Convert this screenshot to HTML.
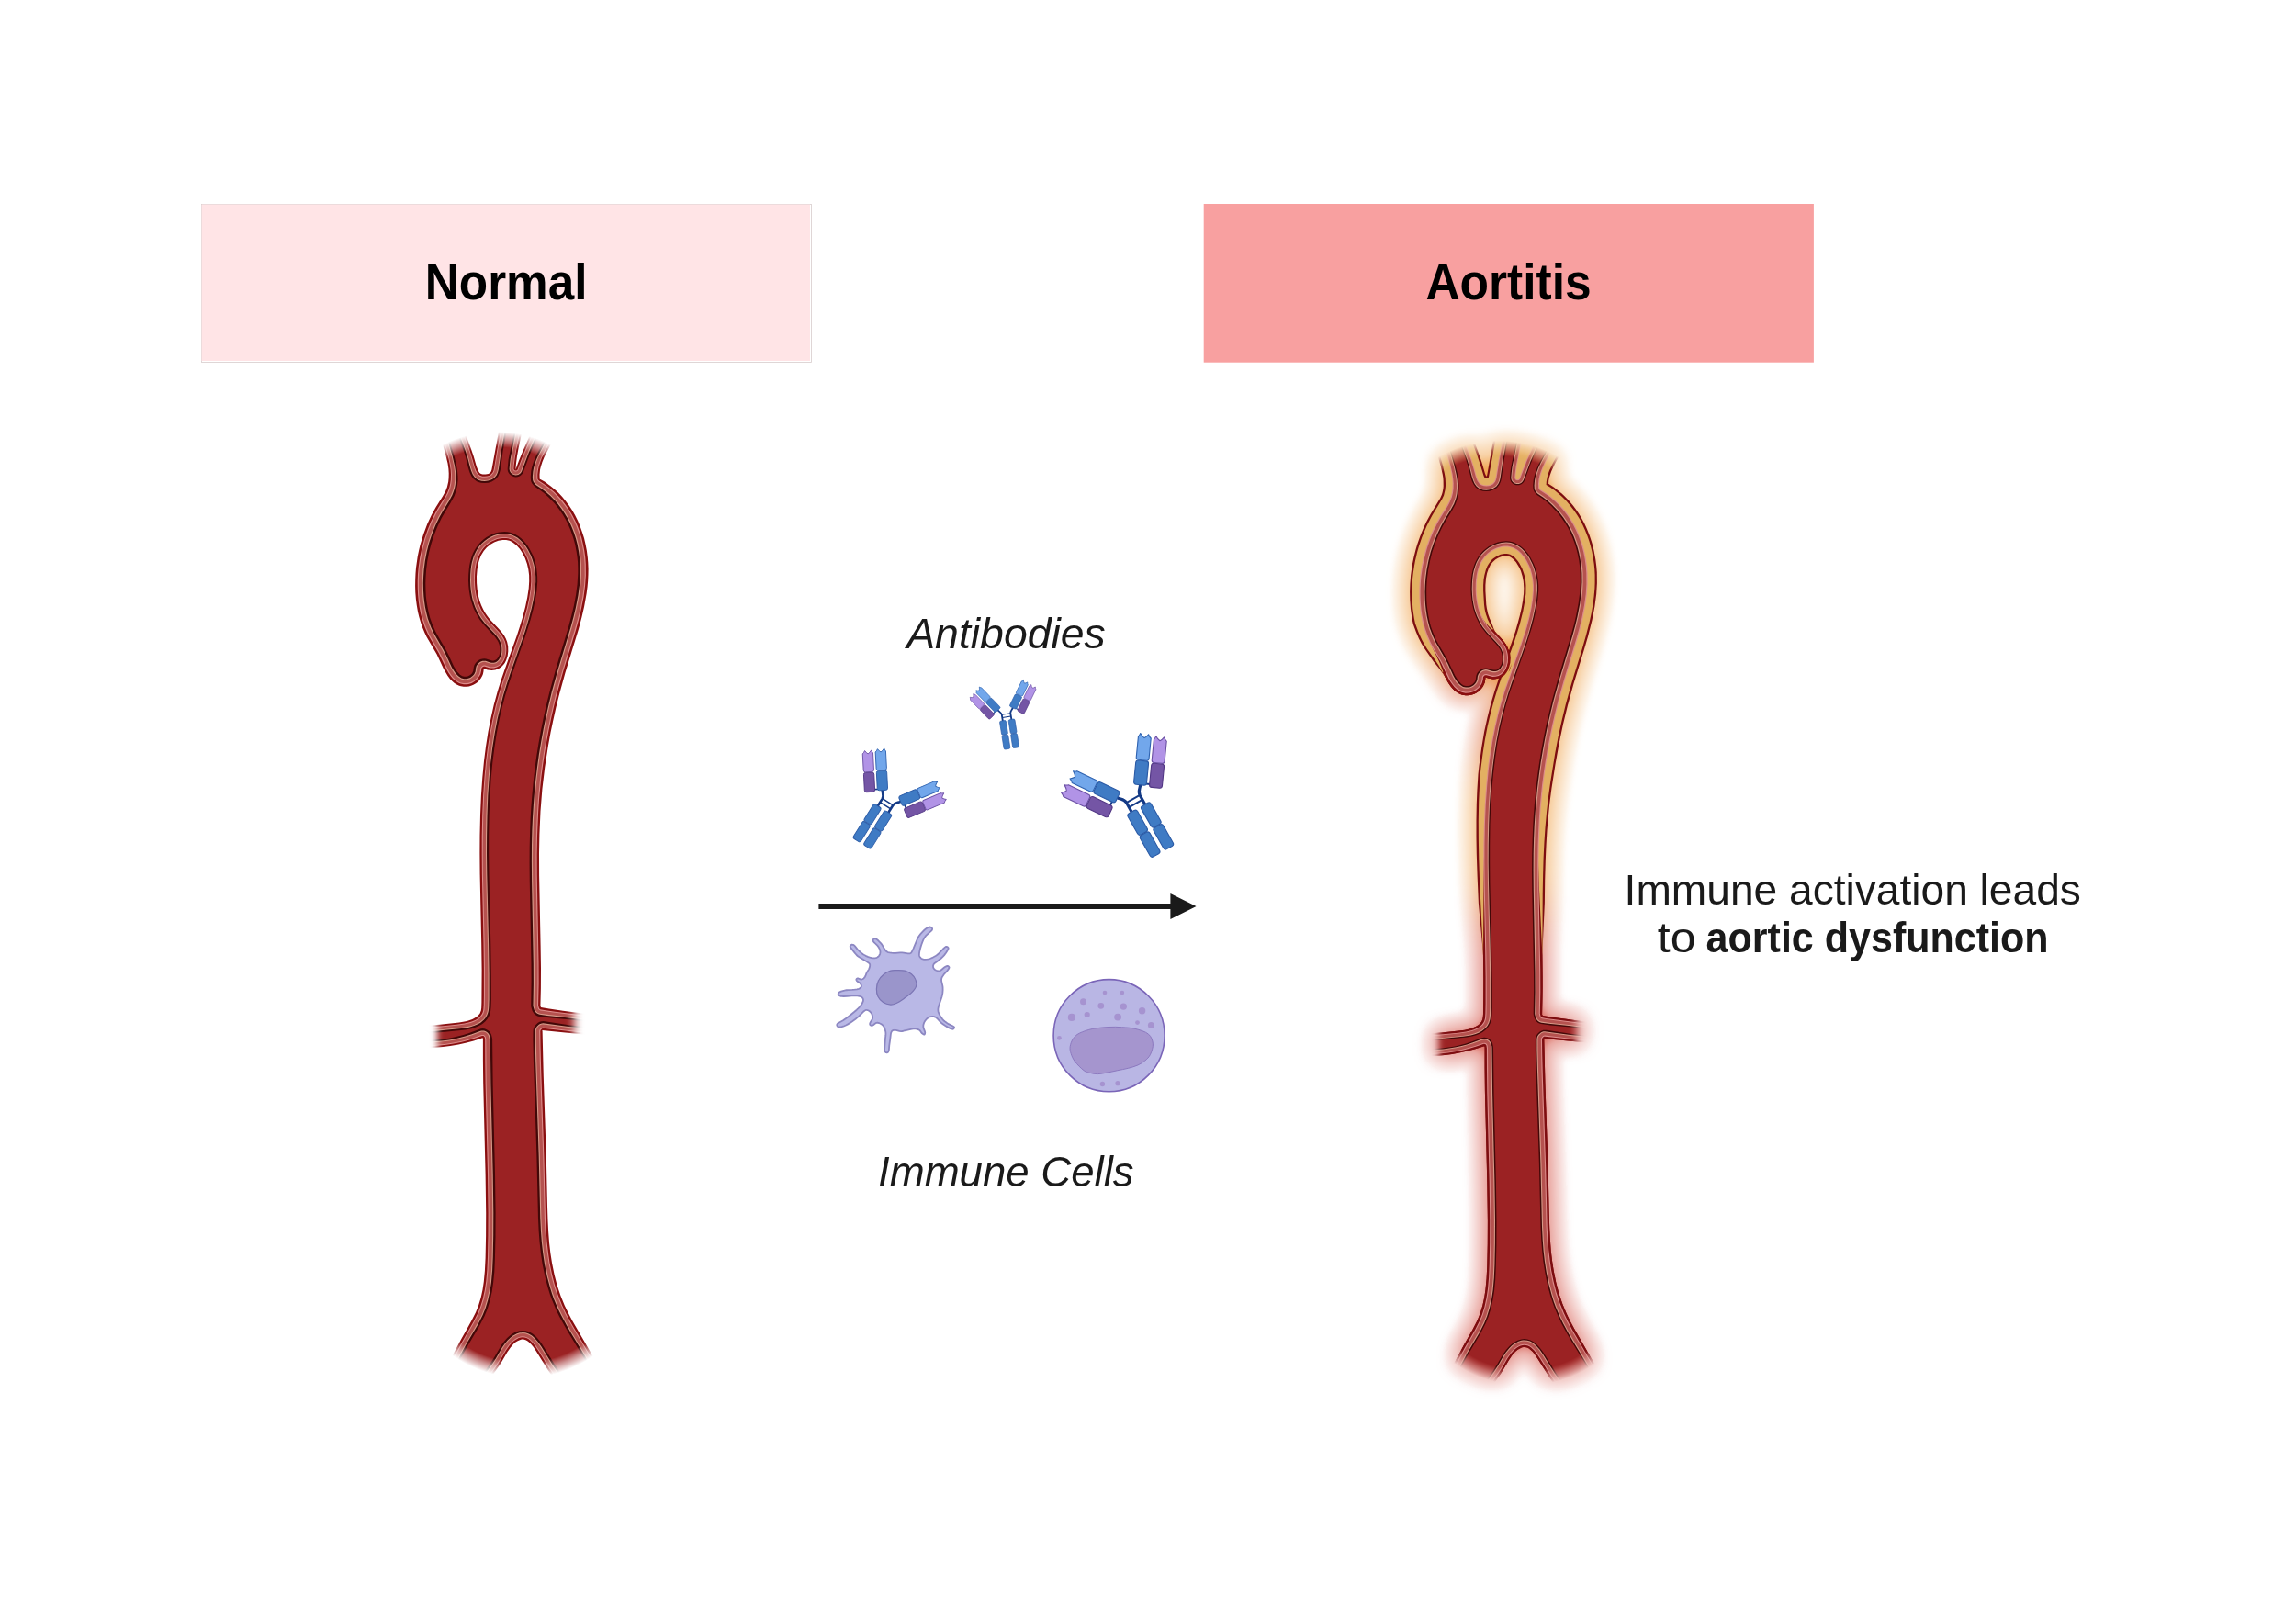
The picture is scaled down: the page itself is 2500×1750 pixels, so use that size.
<!DOCTYPE html>
<html><head><meta charset="utf-8"><title>Aortitis</title><style>html,body{margin:0;padding:0;background:#fff}svg{display:block}</style></head><body>
<svg width="2500" height="1750" viewBox="0 0 2500 1750">
<defs>
<g id="armA"><line x1="-9" y1="-1.40" x2="-5" y2="-1.40" stroke="#143a86" stroke-width="1.6"/><rect x="-5.65" y="-21.4" width="11.3" height="21.4" rx="2.2" fill="#3f7bc4" stroke="#2a5aa6" stroke-width="0.9"/><path d="M-5.65,-24.0 L-5.65,-42.00 Q-4.41,-42.70 -3.16,-45.20 Q-1.47,-42.55 0.23,-41.70 Q2.15,-42.70 4.07,-45.50 Q4.86,-43.05 5.65,-42.40 L5.65,-24.0 Q5.65,-22.0 3.6500000000000004,-22.0 L-3.6500000000000004,-22.0 Q-5.65,-22.0 -5.65,-24.0Z" fill="#72a7eb" stroke="#2e62b0" stroke-width="0.9" stroke-linejoin="round"/><rect x="-19.65" y="-20.2" width="11.3" height="21.4" rx="2.2" fill="#7455a5" stroke="#513684" stroke-width="0.9"/><path d="M-19.65,-22.8 L-19.65,-40.80 Q-18.41,-41.50 -17.16,-44.00 Q-15.47,-41.35 -13.77,-40.50 Q-11.85,-41.50 -9.93,-44.30 Q-9.14,-41.85 -8.35,-41.20 L-8.35,-22.8 Q-8.35,-20.8 -10.35,-20.8 L-17.65,-20.8 Q-19.65,-20.8 -19.65,-22.8Z" fill="#b193e6" stroke="#6a4fa3" stroke-width="0.9" stroke-linejoin="round"/></g>
<g id="armB"><line x1="-9" y1="-2.80" x2="-5" y2="-2.80" stroke="#143a86" stroke-width="1.6"/><rect x="-5.65" y="-21.4" width="11.3" height="21.4" rx="2.2" fill="#3f7bc4" stroke="#2a5aa6" stroke-width="0.9"/><path d="M-5.65,-24.0 L-5.65,-42.00 Q-4.41,-42.70 -3.16,-45.20 Q-1.47,-42.55 0.23,-41.70 Q2.15,-42.70 4.07,-45.50 Q4.86,-43.05 5.65,-42.40 L5.65,-24.0 Q5.65,-22.0 3.6500000000000004,-22.0 L-3.6500000000000004,-22.0 Q-5.65,-22.0 -5.65,-24.0Z" fill="#72a7eb" stroke="#2e62b0" stroke-width="0.9" stroke-linejoin="round"/><rect x="-20.05" y="-21.599999999999998" width="11.3" height="21.4" rx="2.2" fill="#7455a5" stroke="#513684" stroke-width="0.9"/><path d="M-20.05,-24.2 L-20.05,-43.60 Q-18.81,-44.30 -17.56,-46.80 Q-15.87,-44.15 -14.17,-43.30 Q-12.25,-44.30 -10.33,-47.10 Q-9.54,-44.65 -8.75,-44.00 L-8.75,-24.2 Q-8.75,-22.2 -10.75,-22.2 L-18.05,-22.2 Q-20.05,-22.2 -20.05,-24.2Z" fill="#b193e6" stroke="#6a4fa3" stroke-width="0.9" stroke-linejoin="round"/></g>
<g id="ab"><path d="M-11.4,-7 C-9.8,-4.6 -6.9,-3.4 -6.8,0.5 L-6.8,10.5 M11.4,-7 C9.8,-4.6 6.9,-3.4 6.8,0.5 L6.8,10.5" fill="none" stroke="#143a86" stroke-width="2.6" stroke-linecap="round"/><path d="M-6.8,0.3 L6.8,0.3 M-6.8,5 L6.8,5" fill="none" stroke="#143a86" stroke-width="1.6"/><rect x="-11.7" y="9.7" width="9.7" height="21.6" rx="2.2" fill="#3f7bc4" stroke="#2a5aa6" stroke-width="0.9"/><rect x="-11.7" y="31.9" width="9.7" height="21.8" rx="2.2" fill="#3f7bc4" stroke="#2a5aa6" stroke-width="0.9"/><rect x="2.0" y="9.7" width="9.7" height="21.6" rx="2.2" fill="#3f7bc4" stroke="#2a5aa6" stroke-width="0.9"/><rect x="2.0" y="31.9" width="9.7" height="21.8" rx="2.2" fill="#3f7bc4" stroke="#2a5aa6" stroke-width="0.9"/><use href="#armA" transform="translate(-11.4,-7.5) rotate(-35)"/><use href="#armB" transform="translate(11.4,-7.5) rotate(35) scale(-1,1)"/></g>
<g id="abs"><path d="M-11.4,-7 C-9.8,-4.6 -6.9,-3.4 -6.8,0.5 L-6.8,10.5 M11.4,-7 C9.8,-4.6 6.9,-3.4 6.8,0.5 L6.8,10.5" fill="none" stroke="#143a86" stroke-width="2.6" stroke-linecap="round"/><path d="M-6.8,0.3 L6.8,0.3 M-6.8,5 L6.8,5" fill="none" stroke="#143a86" stroke-width="1.6"/><rect x="-11.7" y="9.7" width="9.7" height="21.6" rx="2.2" fill="#3f7bc4" stroke="#2a5aa6" stroke-width="0.9"/><rect x="-11.7" y="31.9" width="9.7" height="21.8" rx="2.2" fill="#3f7bc4" stroke="#2a5aa6" stroke-width="0.9"/><rect x="2.0" y="9.7" width="9.7" height="21.6" rx="2.2" fill="#3f7bc4" stroke="#2a5aa6" stroke-width="0.9"/><rect x="2.0" y="31.9" width="9.7" height="21.8" rx="2.2" fill="#3f7bc4" stroke="#2a5aa6" stroke-width="0.9"/><use href="#armA" transform="translate(-11.4,-7.5) rotate(-35)"/><use href="#armA" transform="translate(11.4,-7.5) rotate(35) scale(-1,1)"/></g>
</defs>
<defs>
<path id="L0" d="M503.0,462.0 512.8,488.4 515.7,497.0 518.8,507.7 519.8,510.5 521.1,513.3 522.2,514.9 523.7,516.0 525.6,516.6 528.8,516.6 531.8,515.9 532.7,515.4 534.1,514.2 534.7,513.4 535.4,511.6 545.0,459.0 570.0,459.0 568.4,469.9 564.3,489.6 562.9,497.5 562.0,504.5 561.4,511.5 564.9,502.1 568.7,492.8 580.0,467.0 604.0,476.0 594.5,493.9 592.3,498.5 590.4,503.2 588.9,507.9 588.0,511.8 587.5,516.8 587.6,520.9 587.9,521.9 588.4,521.9 593.0,524.6 599.7,529.4 603.7,532.7 608.2,536.8 612.4,541.2 616.2,545.9 619.8,550.7 623.1,555.7 626.1,561.0 629.2,567.2 631.5,572.8 633.9,579.4 636.0,586.1 637.6,592.9 638.9,599.8 639.8,606.7 640.3,612.6 640.6,619.5 640.5,625.4 640.2,632.3 639.6,639.1 638.7,646.0 636.1,660.6 633.4,672.3 630.0,684.9 615.5,732.5 609.1,755.8 605.4,770.4 602.4,784.0 599.5,797.7 597.0,811.4 593.2,835.9 590.4,859.6 588.5,883.4 587.4,908.4 587.0,929.5 587.1,953.7 588.6,1029.2 589.0,1054.2 588.9,1076.1 588.4,1095.8 589.1,1097.0 598.0,1098.6 613.0,1100.7 646.0,1105.0 646.0,1127.4 590.4,1122.1 590.6,1123.0 591.8,1172.2 594.8,1259.9 596.0,1314.1 596.5,1329.1 597.2,1342.2 598.1,1354.1 599.4,1365.0 601.1,1375.8 603.7,1388.5 606.7,1400.0 610.5,1411.3 614.7,1421.4 618.6,1429.5 623.3,1438.4 645.9,1477.6 650.6,1486.3 656.0,1497.0 614.0,1518.0 612.2,1514.6 609.6,1510.4 596.2,1491.2 584.5,1472.5 580.9,1467.0 578.2,1463.7 575.3,1461.0 573.8,1459.9 572.3,1459.2 569.9,1458.5 568.2,1458.5 566.6,1458.9 563.2,1460.5 561.5,1461.6 559.2,1463.5 555.8,1467.4 552.3,1472.5 546.5,1482.5 543.3,1487.6 528.5,1508.5 525.2,1513.6 522.0,1519.0 480.0,1499.0 481.1,1497.3 486.0,1488.6 502.5,1457.7 513.0,1439.1 518.0,1429.2 521.0,1421.8 523.6,1413.3 525.5,1404.6 526.8,1395.8 527.9,1383.9 528.6,1369.9 529.1,1345.8 529.2,1320.7 528.6,1278.6 526.2,1179.4 525.9,1154.3 525.9,1131.3 525.5,1130.3 515.9,1133.4 508.1,1135.5 499.2,1137.5 490.2,1139.1 482.2,1140.1 474.2,1140.8 467.1,1141.2 458.0,1141.3 458.0,1116.6 468.3,1116.4 478.9,1115.7 499.9,1113.4 504.2,1112.8 508.4,1111.9 511.4,1111.0 514.3,1109.9 517.0,1108.6 519.4,1107.0 521.4,1105.1 522.5,1103.7 523.2,1102.1 523.8,1100.4 524.2,1097.6 524.4,1091.6 524.6,1056.6 524.2,1027.6 522.6,952.6 522.4,929.6 522.5,909.5 523.0,887.5 523.9,866.6 525.3,846.6 527.0,828.7 529.0,812.9 531.5,797.1 534.4,782.4 537.7,767.8 541.4,754.3 545.2,741.8 549.8,728.5 562.7,692.5 566.1,682.1 569.0,672.6 572.0,661.1 574.2,650.4 575.7,640.7 576.2,632.9 576.1,625.9 575.3,620.0 573.9,614.0 571.8,608.0 568.9,602.2 566.0,597.8 562.6,593.9 558.8,590.9 556.4,589.5 554.7,588.8 551.1,588.0 547.4,588.0 542.7,588.8 538.1,590.6 533.8,593.1 529.9,596.3 526.7,600.1 524.1,604.2 522.2,608.8 520.5,614.6 519.6,620.6 519.0,627.8 519.1,635.0 519.7,642.0 520.9,648.9 522.4,654.7 524.1,659.3 526.2,663.8 528.6,668.0 530.9,671.3 533.4,674.5 542.6,684.2 545.9,688.0 548.9,692.0 550.8,695.5 552.2,699.2 553.2,704.1 553.3,709.2 552.7,714.2 551.2,718.8 549.9,721.4 548.9,723.0 547.1,725.1 545.8,726.3 542.8,728.3 539.3,729.6 535.3,730.0 530.9,729.4 527.3,728.3 526.7,727.9 526.5,730.9 525.9,733.9 525.2,735.8 523.7,738.5 522.5,740.1 520.5,742.4 518.1,744.3 515.4,745.8 513.6,746.6 510.7,747.4 507.7,747.8 504.8,747.8 501.9,747.3 500.0,746.8 497.4,745.6 494.9,744.0 492.6,742.1 489.9,739.2 487.5,736.0 485.4,732.6 483.0,728.2 475.6,712.6 464.5,693.4 462.4,688.9 460.1,683.4 458.1,677.8 456.4,672.1 455.0,666.2 453.8,659.3 452.9,652.4 452.3,645.3 452.1,638.3 452.2,631.2 452.5,624.2 453.0,618.2 454.7,606.3 456.1,599.4 457.5,593.6 461.0,582.1 465.2,570.8 469.9,560.8 474.2,552.9 482.3,540.1 485.1,534.9 486.9,530.3 488.2,524.5 488.6,520.5 488.7,515.5 488.4,510.5 487.5,504.6 485.1,494.7 479.3,474.2 477.3,464.6Z" fill="#8a0f10"/>
<path id="L1" d="M537.9,727.4 541.1,726.6 543.8,725.0 546.2,722.9 547.1,721.8 548.8,718.9 550.2,715.5 551.0,711.8 551.3,708.2 551.3,706.2 550.9,702.5 550.0,699.0 549.3,697.2 548.5,695.5 546.6,692.3 543.2,687.9 533.3,677.5 529.2,672.5 525.9,667.5 523.8,663.7 522.2,660.1 520.8,656.4 519.6,652.2 518.6,648.4 517.6,642.4 517.2,638.0 516.9,631.9 517.1,625.8 517.4,621.7 518.0,617.2 518.7,613.2 520.6,607.1 522.2,603.5 523.4,601.4 525.6,598.1 527.1,596.3 529.9,593.5 533.5,590.8 535.6,589.6 539.1,587.9 541.4,587.1 545.1,586.2 547.4,585.9 551.1,586.0 553.3,586.3 555.5,586.9 557.2,587.6 560.8,589.7 562.6,591.1 565.5,593.9 568.3,597.5 570.6,601.0 573.7,607.2 575.2,611.2 576.5,615.6 577.4,619.6 578.0,624.0 578.3,627.9 578.3,633.8 577.6,642.1 576.1,651.8 574.0,661.5 571.0,673.0 568.1,682.9 564.9,692.4 547.5,741.7 543.5,754.7 539.8,768.2 536.7,781.8 533.6,797.5 531.1,813.3 529.1,829.1 527.5,846.6 526.1,866.6 525.2,888.5 524.7,910.5 524.7,930.6 524.9,952.6 526.5,1026.6 526.9,1054.6 526.9,1084.6 526.7,1094.6 526.4,1099.0 526.1,1100.8 525.4,1103.0 524.6,1104.6 523.0,1106.8 521.7,1108.0 519.9,1109.5 517.9,1110.7 514.2,1112.3 511.9,1113.1 505.7,1114.6 497.1,1115.8 475.1,1118.0 467.3,1118.4 460.9,1118.6 460.1,1139.3 470.1,1139.1 478.2,1138.5 485.9,1137.7 493.8,1136.5 501.8,1134.9 509.6,1132.9 516.9,1130.7 525.0,1128.0 526.4,1128.1 527.4,1129.0 527.8,1129.8 528.2,1132.3 528.3,1156.3 528.6,1180.4 531.0,1278.6 531.6,1320.7 531.5,1344.8 531.0,1368.9 530.4,1382.9 529.3,1395.3 527.8,1405.1 525.7,1414.7 523.2,1422.7 520.3,1430.1 515.5,1439.5 503.4,1460.7 483.6,1497.3 521.1,1516.2 526.7,1507.3 541.5,1486.4 544.7,1481.3 551.0,1470.4 554.9,1465.0 557.7,1462.0 559.2,1460.6 561.1,1459.2 563.2,1457.9 564.9,1457.1 567.0,1456.5 569.1,1456.3 571.1,1456.5 573.1,1457.1 575.1,1458.1 576.5,1459.1 579.7,1462.1 582.7,1465.8 586.4,1471.3 596.9,1488.4 600.2,1493.3 609.7,1506.6 613.0,1511.7 614.9,1515.1 652.6,1495.2 648.1,1486.3 643.6,1477.9 621.3,1439.7 616.4,1430.4 612.1,1421.4 607.6,1410.3 603.8,1398.6 600.9,1387.0 598.5,1375.3 597.1,1365.5 595.6,1353.1 594.7,1341.2 594.0,1327.1 592.5,1262.9 589.2,1165.2 588.5,1139.1 588.3,1123.0 588.7,1121.7 589.8,1120.5 590.5,1120.0 591.4,1119.8 622.1,1123.2 643.9,1125.2 643.1,1106.6 604.6,1101.7 592.6,1100.0 588.2,1099.2 587.1,1098.3 586.8,1097.5 586.1,1094.8 586.6,1071.1 586.5,1047.2 584.7,952.7 584.6,930.5 585.0,910.4 586.1,884.4 587.0,870.5 588.2,858.1 589.4,846.3 591.2,832.5 593.0,820.7 595.3,807.0 597.5,795.2 600.3,781.6 603.4,767.9 606.8,754.3 613.3,731.0 626.9,686.4 630.1,674.7 632.9,663.0 635.6,649.4 637.1,637.7 637.9,626.4 637.8,614.6 637.3,607.2 636.2,599.3 634.6,591.4 633.2,585.6 630.9,578.4 628.8,572.8 626.4,567.3 622.9,560.6 618.8,553.8 615.3,548.9 611.9,544.6 607.8,540.1 603.5,535.8 597.6,530.8 592.5,527.2 586.8,523.5 585.7,522.2 585.4,521.4 585.3,516.8 585.8,512.4 586.6,508.5 588.5,502.4 590.0,498.6 592.7,493.1 601.3,477.1 580.6,470.3 570.8,492.6 567.1,501.9 563.6,511.3 562.9,512.2 561.7,512.6 560.3,512.2 559.6,511.3 559.4,510.5 559.7,506.5 560.8,498.1 562.2,490.2 566.3,470.5 567.8,461.0 546.4,461.8 541.3,490.0 538.0,510.1 537.4,512.4 536.5,514.6 534.7,516.6 532.6,517.9 530.3,518.6 527.7,518.8 525.2,518.7 522.5,517.8 520.4,516.1 519.3,514.5 518.2,512.3 516.8,508.5 514.0,498.4 511.1,489.1 501.7,464.1 479.7,467.2 482.0,476.8 488.1,498.2 489.8,506.1 490.7,512.1 491.0,516.5 490.8,522.5 490.2,526.9 489.2,531.2 487.0,536.7 484.9,540.7 477.4,552.6 473.6,559.3 469.2,568.1 465.4,577.4 462.1,586.9 459.1,598.0 457.1,607.8 455.7,617.7 455.0,625.2 454.7,633.3 454.8,641.3 455.1,647.3 455.8,654.9 456.6,660.8 458.2,668.7 459.7,674.4 462.8,683.4 466.0,690.7 468.6,695.5 477.7,711.2 486.6,729.7 488.5,732.9 490.8,736.2 493.0,738.9 495.7,741.3 498.6,743.3 500.1,744.1 501.7,744.6 505.0,745.3 508.4,745.2 510.2,744.9 513.6,743.9 516.7,742.1 519.4,739.8 520.5,738.5 522.4,735.6 523.2,733.9 524.0,730.6 524.3,727.9 524.8,727.0 525.8,726.2 526.8,725.8 527.8,725.8 532.5,727.2 534.5,727.5Z" fill="#dd8c8b"/>
<path id="L2" d="M537.8,726.3 540.7,725.6 543.3,724.2 545.5,722.2 547.3,719.7 548.0,718.4 549.3,715.2 550.1,711.6 550.4,708.2 550.3,706.2 549.9,702.7 549.1,699.3 548.4,697.5 547.6,695.9 545.8,692.9 542.5,688.6 532.6,678.1 528.4,673.0 525.1,668.0 522.9,664.0 521.3,660.4 519.9,656.8 518.6,652.4 517.7,648.5 516.7,642.6 516.2,638.0 516.0,631.9 516.1,625.8 516.4,621.7 517.0,617.0 517.8,613.0 519.7,606.7 521.3,603.1 522.6,600.8 524.8,597.6 526.4,595.6 529.3,592.8 533.0,590.0 535.2,588.7 538.8,587.0 541.2,586.1 544.9,585.2 547.4,585.0 551.1,585.0 553.5,585.4 555.8,586.1 557.5,586.7 561.3,588.9 563.3,590.5 566.1,593.2 569.1,596.9 571.4,600.5 574.6,606.8 576.1,610.8 577.4,615.4 578.3,619.4 578.9,624.0 579.2,627.9 579.2,633.8 578.5,642.3 577.0,652.0 575.0,661.7 572.0,673.2 568.9,683.2 565.8,692.7 548.4,742.1 544.5,754.9 540.8,768.4 537.7,782.0 534.6,797.7 532.1,813.5 530.1,829.3 528.5,846.6 527.1,866.6 526.2,888.5 525.8,910.5 525.7,930.6 525.9,952.6 527.6,1026.6 528.0,1054.6 528.0,1084.6 527.8,1094.6 527.5,1099.2 527.2,1101.0 526.4,1103.4 525.3,1105.6 523.8,1107.5 522.0,1109.2 518.8,1111.3 516.5,1112.5 512.6,1113.9 505.9,1115.5 499.4,1116.4 475.1,1118.9 467.3,1119.4 461.8,1119.5 461.0,1138.4 470.1,1138.2 478.2,1137.6 485.7,1136.8 493.7,1135.6 501.6,1134.0 507.5,1132.5 514.6,1130.4 524.2,1127.1 525.5,1126.9 526.8,1127.1 527.4,1127.5 528.3,1128.4 528.9,1129.6 529.3,1132.3 529.7,1180.4 532.1,1278.6 532.7,1320.7 532.6,1344.8 532.1,1368.9 531.5,1382.9 530.4,1395.5 528.9,1405.3 526.8,1414.9 524.2,1423.1 521.3,1430.5 516.4,1440.1 503.3,1463.1 485.0,1496.8 520.8,1514.9 523.7,1510.1 527.0,1505.1 540.6,1485.9 543.9,1480.8 550.2,1469.9 554.2,1464.3 557.0,1461.3 558.5,1459.9 560.6,1458.3 562.8,1457.0 564.5,1456.2 566.8,1455.5 569.1,1455.3 571.3,1455.5 573.5,1456.2 575.6,1457.3 577.1,1458.3 580.4,1461.4 583.5,1465.2 587.2,1470.7 598.8,1489.4 610.6,1506.1 615.3,1513.8 651.3,1494.8 647.2,1486.7 641.8,1476.7 620.4,1440.3 615.4,1430.8 611.1,1421.8 606.6,1410.8 603.3,1400.7 600.2,1389.2 597.5,1375.5 596.0,1365.7 594.5,1353.1 593.6,1341.2 592.9,1327.1 591.3,1258.9 587.8,1157.2 587.2,1123.0 587.4,1121.7 587.8,1121.1 589.0,1119.7 590.1,1119.0 591.4,1118.7 622.3,1122.3 643.0,1124.3 642.2,1107.4 602.4,1102.4 590.4,1100.7 588.4,1100.4 587.2,1099.8 586.3,1098.9 585.7,1097.7 585.0,1094.8 585.4,1073.1 585.5,1053.2 585.1,1029.2 583.6,956.7 583.5,932.6 583.8,912.5 584.3,898.4 585.0,884.4 585.9,870.5 587.0,858.6 588.3,846.1 590.1,832.3 591.9,820.5 594.2,806.7 596.8,793.1 599.6,779.4 602.8,765.8 606.2,752.1 612.2,730.8 625.7,686.1 628.9,674.5 631.8,662.8 634.4,649.1 636.0,637.5 636.7,626.4 636.6,614.6 636.1,607.4 635.0,599.5 633.5,591.7 632.0,585.8 629.8,578.9 627.7,573.3 625.3,567.8 622.0,561.3 618.9,556.1 615.5,551.2 611.0,545.4 607.0,540.9 602.7,536.6 597.0,531.7 591.9,528.1 586.1,524.3 584.9,522.8 584.4,521.6 584.3,516.8 584.8,512.2 585.6,508.3 587.0,503.9 588.4,500.1 590.9,494.6 600.1,477.6 581.1,471.4 571.7,492.9 564.2,512.2 562.9,513.3 561.2,513.5 559.8,513.0 558.7,511.6 558.5,510.5 558.8,506.5 559.9,497.9 565.4,470.4 566.8,461.9 547.2,462.7 542.2,490.2 538.9,510.3 538.3,512.8 537.3,515.1 535.2,517.5 533.0,518.8 530.5,519.6 527.7,519.8 525.0,519.7 522.0,518.7 520.0,517.1 518.2,514.5 517.3,512.7 516.0,508.8 513.1,498.5 510.2,489.5 501.2,465.1 480.8,467.9 482.8,476.6 489.0,498.1 490.8,506.0 491.6,511.9 492.0,516.5 491.9,522.5 491.3,527.1 490.2,531.7 488.0,537.2 485.8,541.3 478.4,553.3 474.6,559.9 470.3,568.6 466.5,577.8 463.2,587.3 460.3,598.2 458.3,608.0 456.8,617.9 456.2,625.2 455.9,633.3 455.9,641.3 456.2,647.3 456.9,654.6 457.8,660.6 459.4,668.4 460.9,674.2 463.9,682.9 467.1,690.2 469.6,694.8 478.7,710.5 480.9,714.8 487.7,729.1 489.5,732.3 491.7,735.5 493.8,738.0 496.4,740.4 497.8,741.4 500.6,743.0 502.0,743.5 505.0,744.1 508.2,744.1 510.0,743.8 513.1,742.8 516.0,741.2 518.6,739.0 519.6,737.8 521.4,735.1 522.1,733.4 522.8,730.4 523.0,728.1 523.2,727.4 524.0,726.2 525.2,725.2 525.8,724.8 527.3,724.6 528.0,724.6 532.8,726.1 534.6,726.4Z" fill="#b5524f"/>
<path id="L3" d="M537.5,722.8 539.4,722.4 540.6,721.9 542.2,720.8 543.8,719.2 544.7,717.9 545.9,715.6 546.8,713.0 547.1,711.0 547.3,708.2 547.2,705.0 546.5,701.3 544.9,697.1 542.1,692.9 539.0,689.2 529.1,678.7 524.7,673.0 521.6,668.0 518.5,661.6 517.2,657.9 515.7,653.0 514.7,649.1 513.7,643.2 513.2,638.0 513.0,631.9 513.1,625.8 513.5,620.5 514.1,616.4 514.9,612.4 516.3,607.4 517.7,603.7 519.1,600.9 521.1,597.5 523.0,595.0 525.7,592.1 528.1,590.0 531.3,587.5 534.0,585.9 537.6,584.2 540.6,583.2 544.3,582.3 549.3,581.9 552.3,582.1 554.1,582.4 557.0,583.3 558.7,584.0 563.0,586.4 565.4,588.3 568.3,591.1 571.6,595.3 573.9,598.8 577.4,605.7 578.9,609.7 580.4,614.8 581.2,618.8 581.9,624.0 582.2,627.9 582.2,633.8 581.5,642.9 580.0,652.6 577.9,662.2 574.9,673.7 571.7,684.4 568.6,693.9 554.5,733.7 550.7,745.2 547.0,757.4 543.9,769.0 540.7,782.6 537.7,798.3 535.2,814.1 533.3,829.9 531.7,846.6 530.3,866.6 529.4,888.5 529.0,910.5 529.0,930.6 529.3,952.6 531.0,1028.6 531.5,1060.6 531.5,1088.6 531.2,1096.6 530.9,1099.9 530.5,1101.7 529.6,1104.7 528.1,1107.5 526.2,1109.9 524.9,1111.1 522.3,1113.1 519.5,1114.6 515.8,1116.2 512.7,1117.2 508.6,1118.1 502.2,1119.1 477.0,1121.6 464.5,1122.3 464.0,1135.5 472.2,1135.2 479.7,1134.6 487.1,1133.7 495.1,1132.4 501.0,1131.1 506.9,1129.5 513.4,1127.4 522.9,1124.0 524.2,1123.6 525.5,1123.5 526.8,1123.6 528.1,1124.0 529.3,1124.6 530.3,1125.5 531.2,1126.5 531.8,1127.7 532.6,1131.0 532.8,1132.3 533.3,1182.4 535.6,1278.6 536.2,1320.7 536.1,1344.8 535.6,1368.9 535.0,1382.9 533.8,1396.2 532.4,1406.0 530.2,1415.6 527.5,1424.5 524.5,1431.9 519.3,1442.1 506.0,1464.9 489.3,1495.5 519.5,1510.7 524.4,1503.3 536.9,1485.8 541.2,1479.0 547.6,1468.1 549.9,1464.6 553.3,1460.5 556.2,1457.6 558.8,1455.6 563.2,1453.2 566.1,1452.3 567.8,1452.2 569.1,1452.0 572.0,1452.3 574.8,1453.2 577.4,1454.6 578.9,1455.6 581.3,1457.7 584.9,1461.7 588.6,1467.1 601.4,1487.7 612.0,1502.6 616.6,1509.6 647.2,1493.4 643.0,1485.4 638.1,1476.7 622.6,1450.9 617.6,1442.2 612.2,1432.2 608.7,1425.0 604.1,1414.0 602.1,1408.4 599.9,1401.4 596.8,1389.9 594.0,1376.2 592.3,1364.4 591.0,1353.1 590.1,1341.2 589.4,1327.1 587.8,1258.9 584.3,1155.2 583.8,1135.1 583.8,1123.0 583.9,1121.7 584.3,1120.4 584.9,1119.2 586.6,1117.3 587.7,1116.5 588.8,1115.9 590.1,1115.5 591.4,1115.4 620.8,1119.3 640.0,1121.1 639.5,1109.9 621.9,1107.7 597.8,1105.1 587.8,1103.7 586.5,1103.3 585.3,1102.7 584.3,1101.8 583.4,1100.8 582.8,1099.6 581.7,1096.1 581.6,1094.8 582.0,1071.1 581.9,1051.2 581.6,1027.2 580.2,958.8 580.0,936.6 580.2,918.5 581.1,890.4 582.0,876.5 583.1,862.6 584.4,849.3 586.1,835.5 588.0,821.7 590.3,808.0 592.8,794.3 595.6,780.6 598.7,767.0 602.1,753.4 608.5,730.0 622.6,683.5 625.7,671.8 628.0,662.1 630.7,648.4 632.3,636.8 632.9,626.4 632.9,614.6 632.4,608.1 631.3,600.2 629.8,592.4 628.3,586.6 626.3,580.3 624.2,574.7 621.8,569.2 618.8,563.4 615.7,558.2 612.4,553.3 608.7,548.5 605.7,545.0 600.1,539.2 595.5,535.1 590.0,530.9 583.7,526.7 582.1,524.6 581.5,523.5 581.1,522.2 581.1,516.8 581.7,511.6 582.6,507.7 584.2,502.8 585.7,499.0 588.3,493.5 596.0,479.2 582.6,474.8 575.0,492.1 567.2,512.8 566.7,513.8 565.0,515.5 564.0,516.0 562.9,516.4 560.6,516.4 559.2,516.0 558.2,515.4 556.6,513.8 556.0,512.8 555.6,510.5 556.0,505.3 556.7,499.4 563.6,464.9 549.5,465.4 545.3,488.8 541.9,510.9 541.2,514.0 539.9,516.8 537.9,519.3 537.0,520.1 534.2,521.7 531.1,522.7 527.7,523.0 524.4,522.8 521.3,521.9 520.2,521.3 517.8,519.3 515.9,516.8 515.3,515.7 514.5,513.8 513.2,510.0 510.3,499.1 507.6,490.6 499.3,468.2 484.1,470.3 486.1,478.0 491.9,497.5 494.1,507.3 495.0,513.3 495.3,518.5 495.3,522.5 494.7,527.8 493.5,533.0 491.4,538.6 487.9,545.1 481.5,555.4 477.3,562.8 473.0,571.9 469.3,581.2 466.0,591.2 463.5,600.9 461.6,610.7 460.4,620.1 459.9,627.2 459.6,635.3 459.8,643.3 460.2,649.4 460.9,655.9 461.9,661.8 463.1,667.7 464.8,674.2 468.2,683.3 471.5,690.5 481.9,708.4 484.4,713.3 491.0,727.4 492.6,730.2 494.8,733.5 496.5,735.4 498.7,737.5 502.0,739.6 503.1,740.0 505.3,740.4 507.8,740.4 509.3,740.1 511.7,739.4 513.9,738.1 516.7,735.6 518.0,733.5 518.7,732.0 519.1,729.9 519.3,727.4 519.8,726.0 520.4,724.7 521.4,723.6 523.1,722.1 524.4,721.4 525.8,721.0 527.3,720.8 528.7,721.0 533.5,722.5 535.2,722.8Z" fill="#d69a88"/>
<path id="L4" d="M537.4,721.7 539.0,721.4 540.2,720.9 541.6,720.0 543.1,718.5 545.0,715.3 545.8,712.8 546.2,710.9 546.4,708.2 546.3,705.1 545.6,701.5 544.0,697.5 541.4,693.4 538.3,689.8 528.5,679.4 523.9,673.6 520.8,668.5 517.7,662.0 516.3,658.3 514.7,653.2 513.8,649.3 512.8,643.4 512.3,638.0 512.0,631.9 512.2,625.8 512.6,620.3 513.1,616.2 513.9,612.2 515.4,607.1 516.8,603.4 518.3,600.4 520.3,597.0 522.3,594.3 525.0,591.4 527.5,589.2 530.8,586.7 533.7,585.1 537.3,583.3 540.4,582.3 544.2,581.4 549.3,581.0 552.5,581.2 554.3,581.5 557.3,582.4 560.7,584.0 563.5,585.6 566.1,587.7 568.9,590.4 572.4,594.7 574.7,598.3 578.2,605.3 579.7,609.3 581.3,614.6 582.2,618.6 582.9,624.0 583.2,627.9 583.2,633.8 582.4,643.0 580.9,652.8 578.8,662.4 575.8,673.9 572.6,684.8 569.5,694.3 555.4,734.1 551.6,745.5 547.9,757.6 544.9,769.2 541.7,782.8 538.7,798.5 536.2,814.3 534.2,830.1 532.7,846.6 531.3,866.6 530.5,888.5 530.1,910.5 530.0,930.6 530.3,952.6 532.1,1028.6 532.6,1060.6 532.6,1088.6 532.3,1096.6 532.0,1100.1 531.6,1101.9 530.6,1105.1 529.0,1108.1 526.9,1110.6 522.9,1113.9 519.9,1115.6 516.2,1117.1 510.8,1118.7 502.3,1120.0 477.0,1122.5 465.4,1123.2 464.9,1134.6 472.2,1134.3 480.9,1133.6 488.9,1132.5 494.9,1131.5 500.8,1130.1 506.5,1128.6 513.0,1126.5 522.5,1123.0 524.0,1122.5 525.5,1122.4 527.0,1122.5 528.5,1123.0 529.9,1123.7 531.1,1124.7 532.1,1125.9 532.8,1127.3 533.7,1130.7 533.8,1132.3 534.4,1182.4 536.7,1278.6 537.3,1320.7 537.2,1344.8 536.7,1368.9 536.1,1382.9 534.9,1396.4 533.4,1406.2 531.3,1415.8 528.5,1424.9 525.5,1432.3 520.2,1442.7 506.8,1465.4 490.7,1495.1 519.2,1509.4 523.6,1502.8 536.1,1485.3 540.4,1478.5 546.7,1467.5 549.1,1464.1 552.6,1459.8 555.5,1456.9 558.2,1454.8 562.8,1452.3 565.9,1451.3 567.6,1451.2 569.1,1451.0 572.2,1451.3 575.2,1452.2 578.0,1453.7 579.5,1454.8 582.0,1457.0 585.7,1461.2 589.5,1466.5 602.2,1487.1 612.8,1502.1 616.9,1508.3 645.8,1493.0 642.2,1486.0 637.3,1477.3 621.7,1451.5 616.7,1442.8 611.2,1432.6 607.7,1425.4 603.0,1414.4 601.0,1408.8 598.8,1401.6 595.7,1390.1 593.0,1376.4 591.2,1364.6 589.9,1353.1 589.0,1341.2 588.3,1327.1 586.7,1258.9 583.2,1155.2 582.7,1135.1 582.7,1123.0 582.9,1121.5 583.3,1120.0 584.0,1118.7 585.0,1117.5 587.1,1115.6 588.4,1114.9 589.9,1114.4 591.4,1114.3 619.0,1118.1 639.0,1120.1 638.6,1110.7 619.7,1108.4 595.6,1105.9 587.6,1104.8 586.1,1104.3 584.7,1103.6 583.5,1102.6 582.5,1101.4 581.8,1100.0 580.7,1096.3 580.5,1094.8 580.9,1071.1 580.8,1049.2 579.1,960.8 578.9,938.6 579.0,920.5 579.4,904.4 580.0,890.4 580.9,876.5 582.0,862.6 583.3,849.1 585.0,835.3 586.9,821.5 589.2,807.8 591.7,794.1 594.5,780.4 597.6,766.8 600.9,753.1 607.4,729.8 621.4,683.2 624.6,671.6 626.9,661.8 629.5,648.2 631.1,636.6 631.8,624.4 631.7,614.6 631.2,608.4 630.1,600.5 628.6,592.6 627.1,586.8 625.2,580.8 623.1,575.2 620.7,569.7 617.8,564.1 614.7,558.9 611.4,553.9 607.7,549.1 604.9,545.8 599.3,540.0 594.7,535.9 589.4,531.9 584.1,528.4 582.9,527.4 581.2,525.2 580.5,523.9 580.1,522.4 579.9,518.9 580.4,513.4 581.1,509.5 582.6,504.3 584.0,500.5 586.5,495.0 594.8,479.7 583.1,475.9 575.9,492.5 568.1,513.2 567.4,514.4 566.6,515.4 565.5,516.3 564.4,516.9 563.1,517.3 561.7,517.4 560.4,517.3 558.9,516.8 557.7,516.2 556.6,515.3 555.8,514.3 555.1,513.1 554.8,511.8 554.6,510.5 555.1,505.1 555.8,499.2 562.5,465.8 550.3,466.3 546.1,489.0 542.9,511.0 542.1,514.3 540.7,517.4 538.6,520.0 537.5,520.9 534.6,522.6 531.3,523.6 527.7,524.0 524.2,523.8 520.9,522.8 519.7,522.1 517.1,520.0 515.1,517.3 514.4,516.0 512.9,512.3 511.9,509.1 509.4,499.3 506.8,490.9 498.8,469.1 485.2,471.0 487.5,479.7 492.8,497.3 495.1,507.2 496.0,513.1 496.4,518.5 496.3,522.5 495.8,528.0 495.0,531.9 493.9,535.3 492.5,539.0 488.9,545.7 482.5,556.0 478.4,563.3 474.1,572.3 470.4,581.6 467.1,591.4 464.7,601.1 462.8,611.0 461.6,620.2 461.1,627.2 460.8,635.3 461.0,643.3 461.4,649.4 462.1,655.6 463.0,661.6 464.3,667.5 465.9,673.7 469.3,682.9 472.6,690.1 482.8,707.8 485.5,712.9 492.0,726.9 493.6,729.5 495.8,732.8 497.3,734.6 499.4,736.6 502.4,738.5 505.4,739.2 507.6,739.2 509.9,738.8 512.1,737.9 514.1,736.5 515.7,734.9 516.6,733.7 517.7,731.2 518.2,727.2 518.7,725.6 519.5,724.1 520.5,722.8 522.5,721.1 524.0,720.3 525.6,719.8 527.3,719.7 528.9,719.8 533.7,721.4 535.4,721.7Z" fill="#420808"/>
<path id="L5" d="M537.5,719.4 539.5,718.8 541.0,717.7 543.0,714.9 543.7,713.3 544.3,710.5 544.4,708.2 544.3,705.4 543.7,701.9 542.9,699.8 541.9,697.8 538.9,693.5 527.1,680.8 522.3,674.7 519.2,669.6 515.8,662.7 514.5,659.0 512.8,653.6 511.9,649.7 510.9,643.8 510.3,638.0 510.0,631.9 510.2,625.8 510.7,619.9 511.2,615.8 512.0,611.8 513.6,606.3 515.0,602.6 516.7,599.3 518.7,595.9 521.0,592.9 523.6,590.0 526.4,587.5 529.7,585.1 532.9,583.2 536.5,581.5 540.0,580.3 543.8,579.4 549.3,579.0 552.8,579.3 556.4,580.1 559.8,581.3 564.6,584.0 567.5,586.3 570.3,589.0 574.0,593.6 576.3,597.2 580.1,604.6 581.6,608.6 583.3,614.2 584.1,618.2 584.8,624.0 585.1,627.9 585.2,633.8 584.4,643.4 582.8,653.2 580.8,662.8 577.8,674.3 571.9,693.1 557.3,734.9 553.5,746.3 549.9,758.0 546.9,769.6 543.7,783.2 540.7,798.9 538.3,814.7 536.3,830.5 534.6,848.6 533.4,868.6 532.6,888.5 532.2,910.5 532.2,930.6 532.5,952.6 534.3,1028.6 534.8,1062.6 534.9,1088.6 534.6,1096.6 534.2,1100.5 533.8,1102.4 532.7,1106.0 530.9,1109.3 528.5,1112.2 525.6,1114.7 524.1,1115.7 520.7,1117.6 517.0,1119.1 513.3,1120.2 507.0,1121.4 478.9,1124.2 467.2,1125.0 466.9,1132.6 480.6,1131.7 488.6,1130.7 494.5,1129.6 504.6,1127.1 512.2,1124.5 521.6,1120.9 523.5,1120.3 525.5,1120.1 527.5,1120.3 529.4,1120.9 531.1,1121.9 532.7,1123.1 533.9,1124.7 534.9,1126.4 535.9,1130.3 536.1,1132.3 536.7,1182.4 539.0,1278.6 539.6,1320.7 539.5,1346.8 538.9,1370.9 538.3,1384.9 537.1,1396.8 535.7,1406.6 533.5,1416.3 530.6,1425.8 527.6,1433.1 522.0,1443.9 507.6,1468.4 493.5,1494.2 518.4,1506.7 523.0,1500.0 534.4,1484.1 538.7,1477.3 543.9,1468.2 546.1,1464.6 548.6,1461.3 551.1,1458.3 552.5,1456.8 555.4,1454.2 557.0,1453.0 560.4,1451.1 562.0,1450.3 565.5,1449.3 569.1,1448.9 572.6,1449.2 576.0,1450.3 579.2,1452.0 580.6,1453.0 583.5,1455.5 584.9,1456.9 587.4,1460.0 590.0,1463.5 604.0,1486.0 617.7,1505.5 643.1,1492.1 639.5,1485.4 634.5,1476.7 619.9,1452.7 614.8,1444.1 609.0,1433.5 605.5,1426.3 600.9,1415.3 598.9,1409.7 596.5,1402.0 593.5,1390.5 590.7,1376.9 588.9,1365.1 587.6,1353.1 586.7,1341.2 586.0,1327.1 584.4,1258.9 580.9,1155.2 580.4,1133.1 580.5,1123.0 580.7,1121.1 581.2,1119.2 582.2,1117.4 583.4,1115.9 585.8,1113.8 587.6,1112.8 589.5,1112.3 591.4,1112.1 593.4,1112.3 619.4,1116.2 637.1,1118.1 636.8,1112.4 619.3,1110.2 595.1,1108.0 587.1,1107.0 585.2,1106.4 583.5,1105.5 581.9,1104.2 580.6,1102.6 579.7,1100.9 579.0,1098.7 578.4,1096.8 578.2,1094.8 578.6,1069.1 578.5,1049.2 576.8,960.8 576.6,940.6 576.7,922.5 577.1,906.4 577.6,892.4 578.4,878.5 579.5,864.6 580.8,850.6 582.4,836.8 584.3,823.0 586.5,809.3 589.0,795.6 591.7,781.9 594.8,768.2 598.6,752.7 605.0,729.3 619.0,682.7 622.1,671.1 624.9,659.4 627.1,647.7 628.6,636.2 629.3,624.4 629.3,618.5 629.1,612.6 628.6,606.9 627.7,601.0 626.2,593.1 624.7,587.3 622.9,581.8 620.8,576.1 618.4,570.6 615.8,565.4 612.7,560.3 609.3,555.3 605.7,550.5 603.2,547.6 597.6,541.7 593.0,537.6 588.1,533.7 582.9,530.2 581.4,529.0 579.4,526.4 578.5,524.7 578.0,522.9 577.8,518.9 578.3,513.0 579.1,509.1 580.8,503.5 582.2,499.8 584.8,494.3 592.1,480.8 584.1,478.2 576.8,495.1 569.9,513.9 569.1,515.4 568.0,516.8 566.6,517.9 565.1,518.7 563.5,519.2 561.7,519.4 560.0,519.2 558.1,518.6 556.6,517.8 555.3,516.7 554.2,515.4 553.3,513.9 552.8,512.2 552.7,510.5 553.6,500.8 554.7,494.9 560.3,467.7 551.8,468.0 547.6,491.3 544.9,511.4 543.9,515.1 542.4,518.5 540.1,521.5 538.7,522.6 535.4,524.6 531.7,525.7 527.7,526.1 523.8,525.8 520.1,524.7 518.5,523.8 515.6,521.5 513.4,518.4 511.7,515.0 511.0,513.1 509.9,509.4 507.0,497.7 505.1,491.6 497.6,471.2 487.5,472.6 489.9,481.3 495.2,498.9 497.4,508.7 498.0,512.7 498.5,518.5 498.6,522.5 498.0,528.5 496.7,534.2 494.7,539.9 490.9,547.1 484.6,557.4 480.7,564.2 476.4,573.3 472.7,582.6 469.6,591.9 467.1,601.6 465.2,611.4 464.0,621.2 463.5,629.2 463.3,635.3 463.5,643.3 463.8,649.4 464.5,655.2 465.5,661.1 466.7,667.0 468.2,672.8 470.8,680.1 474.0,687.3 475.8,690.7 484.9,706.4 487.8,711.9 494.2,725.8 497.8,731.5 500.9,734.7 503.3,736.2 505.6,736.8 507.3,736.8 509.2,736.5 510.9,735.7 512.4,734.7 513.8,733.4 514.5,732.3 515.3,730.6 515.8,726.7 516.4,724.6 517.4,722.7 518.8,721.0 521.1,719.1 523.0,718.1 525.1,717.4 527.3,717.2 529.4,717.4 534.2,719.1 536.0,719.4Z" fill="#9b2223"/>
<path id="L5b" d="M537.4,720.2 538.6,720.0 539.7,719.5 541.5,718.2 543.5,715.4 544.3,713.5 544.9,710.6 545.1,708.2 545.0,705.3 544.4,701.8 542.9,698.1 540.3,694.2 537.4,690.8 527.6,680.3 522.9,674.3 519.8,669.2 516.5,662.4 515.1,658.8 513.5,653.4 512.6,649.6 511.6,643.6 511.0,638.0 510.7,631.9 510.9,625.8 511.3,620.0 511.9,616.0 512.7,612.0 514.2,606.6 515.6,602.9 517.3,599.7 519.3,596.3 521.4,593.4 524.1,590.5 526.8,588.1 530.0,585.7 533.2,583.9 536.8,582.1 540.2,581.0 543.9,580.1 549.3,579.7 552.7,579.9 556.3,580.7 559.5,581.9 564.2,584.6 567.0,586.8 569.8,589.5 573.5,594.0 575.8,597.6 579.4,604.8 580.9,608.8 582.6,614.4 583.4,618.4 584.2,624.0 584.5,627.9 584.5,633.8 583.7,643.3 582.2,653.0 580.1,662.7 577.1,674.2 571.3,692.9 556.7,734.6 552.8,746.0 549.2,757.9 546.2,769.5 543.0,783.1 540.0,798.8 537.6,814.6 535.6,830.4 533.9,848.6 532.6,868.6 531.8,888.5 531.5,910.5 531.5,930.6 531.7,952.6 533.5,1028.6 534.1,1062.6 534.1,1088.6 533.8,1096.6 533.4,1100.4 533.1,1102.2 531.9,1105.7 530.2,1108.9 527.9,1111.7 526.6,1112.9 523.7,1115.1 520.4,1116.9 516.7,1118.4 513.1,1119.5 506.9,1120.7 478.9,1123.6 466.6,1124.4 466.2,1133.3 474.2,1132.9 480.7,1132.4 488.7,1131.3 494.7,1130.3 505.2,1127.6 512.5,1125.2 521.9,1121.6 523.7,1121.1 525.5,1120.9 527.3,1121.1 529.1,1121.6 530.7,1122.5 532.1,1123.7 533.3,1125.1 534.2,1126.7 535.1,1130.5 535.3,1132.3 535.9,1182.4 538.2,1278.6 538.8,1320.7 538.7,1346.8 538.1,1370.9 537.5,1384.9 536.4,1396.7 534.9,1406.5 532.8,1416.1 529.9,1425.5 526.9,1432.8 521.4,1443.5 507.0,1468.0 492.6,1494.5 518.7,1507.7 523.6,1500.4 535.0,1484.5 539.3,1477.7 544.5,1468.6 546.7,1465.0 549.2,1461.7 551.6,1458.8 553.0,1457.3 555.9,1454.9 557.4,1453.6 560.6,1451.8 562.3,1451.0 565.7,1450.0 569.1,1449.6 572.4,1450.0 575.7,1451.0 578.7,1452.6 580.2,1453.6 583.0,1456.0 584.4,1457.5 586.8,1460.4 589.4,1463.9 603.4,1486.4 614.0,1501.3 617.4,1506.5 644.0,1492.4 640.1,1485.0 635.2,1476.3 620.5,1452.3 615.4,1443.6 609.8,1433.2 606.3,1426.0 601.7,1415.0 599.7,1409.3 597.3,1401.9 594.2,1390.4 591.5,1376.7 589.7,1364.9 588.4,1353.1 587.5,1341.2 586.8,1327.1 585.2,1258.9 581.7,1155.2 581.2,1135.1 581.2,1123.0 581.4,1121.2 582.0,1119.5 582.8,1117.8 584.0,1116.4 586.3,1114.4 587.9,1113.6 589.6,1113.0 591.4,1112.8 593.2,1113.0 619.3,1116.9 637.7,1118.8 637.4,1111.8 621.5,1109.8 597.3,1107.5 587.3,1106.2 585.5,1105.7 583.9,1104.8 582.5,1103.6 581.3,1102.2 580.4,1100.6 579.2,1096.6 579.0,1094.8 579.4,1069.1 579.3,1049.2 577.6,960.8 577.4,940.6 577.5,922.5 577.9,906.4 578.4,892.4 579.2,878.5 580.3,864.6 581.6,850.8 583.2,837.0 585.1,823.2 587.3,809.4 589.8,795.7 592.5,782.0 595.6,768.4 599.4,752.8 605.8,729.5 619.8,682.9 623.0,671.3 625.3,661.5 627.9,647.9 629.5,636.3 630.2,624.4 630.0,614.6 629.6,608.7 628.6,600.8 627.0,592.9 625.5,587.1 623.7,581.4 621.6,575.8 619.2,570.3 616.5,565.0 613.4,559.8 610.0,554.8 606.4,550.0 603.8,547.0 598.2,541.1 593.6,537.0 588.6,533.1 583.3,529.6 581.9,528.4 580.1,526.0 579.2,524.4 578.7,522.7 578.5,518.9 579.0,513.1 579.8,509.2 581.4,503.8 582.9,500.0 585.4,494.5 593.0,480.4 583.8,477.4 576.2,494.8 569.2,513.7 568.5,515.1 567.5,516.3 566.2,517.3 564.8,518.1 563.3,518.5 561.7,518.7 560.1,518.5 558.4,518.0 557.0,517.3 555.7,516.2 554.7,515.0 554.0,513.6 553.5,512.1 553.4,510.5 553.8,504.9 554.6,498.9 561.1,467.0 551.3,467.4 547.0,491.2 544.2,511.3 543.3,514.9 541.8,518.1 539.6,521.0 538.3,522.0 535.1,523.9 531.5,525.0 527.7,525.4 523.9,525.1 520.4,524.0 518.9,523.2 516.1,521.0 514.0,518.0 512.3,514.7 511.6,512.8 510.6,509.3 507.6,497.6 505.7,491.4 498.0,470.4 486.7,472.0 488.7,479.5 494.0,497.1 496.4,506.9 497.3,512.8 497.8,518.5 497.8,522.5 497.2,528.3 495.9,534.1 493.9,539.6 490.2,546.6 483.9,556.9 479.9,563.9 475.6,573.0 471.9,582.2 468.7,591.7 466.3,601.4 464.4,611.3 463.1,621.2 462.6,629.2 462.5,635.3 462.6,643.3 463.0,649.4 463.7,655.3 464.6,661.3 465.8,667.1 467.4,673.2 470.0,680.4 473.2,687.7 475.1,691.2 484.2,706.9 487.0,712.3 493.5,726.2 497.1,731.9 500.4,735.3 503.0,737.0 505.5,737.7 507.4,737.7 509.4,737.3 511.3,736.5 513.0,735.3 514.5,733.9 515.2,732.8 516.1,730.8 516.6,726.9 517.2,724.9 518.1,723.2 519.4,721.6 521.6,719.8 523.3,718.8 525.3,718.3 527.3,718.1 529.3,718.3 534.0,719.9 535.8,720.2Z" fill="#9b2223"/>
<path id="TO" d="M472.1,477.2 478.0,497.7 480.0,506.6 480.7,510.5 480.9,513.5 481.0,519.5 480.8,522.3 480.0,526.4 479.2,529.2 477.5,532.8 466.6,550.8 462.3,558.8 458.6,567.0 455.6,574.4 452.6,582.9 450.9,588.7 448.7,597.4 446.9,606.3 445.4,617.2 444.7,626.2 444.4,635.3 444.6,644.3 445.3,653.4 446.8,664.3 448.1,670.2 451.1,678.6 454.2,685.7 456.9,691.0 459.9,696.1 470.3,711.0 476.2,718.4 481.5,725.6 485.9,733.5 488.6,737.6 490.5,739.9 492.6,742.1 496.5,745.1 499.1,746.4 501.0,747.1 504.8,747.8 508.7,747.7 511.7,747.2 513.6,746.6 516.3,745.3 518.9,743.7 521.2,741.6 523.2,739.3 524.7,736.7 525.9,733.9 526.5,730.9 526.7,727.9 527.3,728.3 529.7,729.1 534.3,730.0 536.4,730.0 538.4,729.8 541.5,728.9 536.6,743.7 532.3,758.1 528.7,772.6 525.5,787.2 522.5,804.9 519.8,824.7 518.8,833.7 517.7,851.6 517.1,866.6 516.8,884.5 516.8,902.5 517.1,920.6 517.9,944.6 519.2,974.6 523.9,1025.6 524.3,1031.6 524.6,1056.6 524.6,1077.6 524.3,1095.6 523.8,1100.4 523.2,1102.1 522.5,1103.7 521.4,1105.1 519.4,1107.0 517.0,1108.6 514.3,1109.9 511.4,1111.0 508.4,1111.9 504.2,1112.8 499.9,1113.4 478.9,1115.7 468.3,1116.4 458.0,1116.6 458.0,1141.3 467.1,1141.2 474.2,1140.8 482.2,1140.1 490.2,1139.1 499.2,1137.5 508.1,1135.5 515.9,1133.4 525.5,1130.3 525.9,1131.3 525.9,1154.3 526.2,1179.4 528.6,1278.6 529.2,1320.7 529.1,1345.8 528.6,1369.9 527.9,1383.9 526.8,1395.8 525.5,1404.6 523.6,1413.3 521.0,1421.8 518.0,1429.2 513.0,1439.1 502.5,1457.7 486.0,1488.6 481.1,1497.3 480.0,1499.0 522.0,1519.0 525.2,1513.6 528.5,1508.5 543.3,1487.6 546.5,1482.5 552.3,1472.5 555.8,1467.4 559.2,1463.5 561.5,1461.6 563.2,1460.5 566.6,1458.9 568.2,1458.5 569.9,1458.5 572.3,1459.2 573.8,1459.9 575.3,1461.0 578.2,1463.7 580.9,1467.0 584.5,1472.5 596.2,1491.2 609.6,1510.4 612.2,1514.6 614.0,1518.0 656.0,1497.0 650.6,1486.3 645.9,1477.6 623.3,1438.4 618.6,1429.5 614.7,1421.4 610.5,1411.3 606.7,1400.0 603.7,1388.5 601.1,1375.8 599.4,1365.0 598.1,1354.1 597.2,1342.2 596.5,1329.1 596.0,1314.1 594.8,1259.9 591.8,1172.2 590.6,1123.0 590.4,1122.1 646.0,1127.4 646.0,1105.0 613.0,1100.7 598.0,1098.6 589.1,1097.0 588.4,1095.8 589.0,1066.1 588.7,1028.2 591.2,973.9 591.5,949.7 592.1,928.5 592.9,910.4 593.8,895.4 595.1,880.5 596.6,865.5 598.7,849.6 602.8,823.2 607.0,799.7 611.3,779.2 616.3,758.7 622.7,735.4 634.3,697.6 638.5,683.0 642.9,665.5 645.7,650.9 647.5,637.2 648.2,625.4 648.1,613.6 647.6,607.6 646.6,599.7 645.0,590.9 643.7,585.0 642.0,579.3 640.1,573.6 637.1,566.1 634.6,560.7 631.8,555.4 628.7,550.2 625.3,545.2 622.3,541.2 618.5,536.5 614.3,532.1 609.9,527.9 605.2,524.0 601.1,520.9 595.3,517.0 595.5,513.8 596.1,510.9 596.9,508.0 598.6,503.2 602.1,495.9 609.3,482.5 611.4,478.0 611.7,476.0 611.4,474.0 610.7,472.1 609.4,470.6 607.9,469.3 606.0,468.6 581.2,461.4 579.2,461.1 577.4,461.4 577.7,459.0 577.4,457.0 576.7,455.1 575.4,453.6 573.9,452.3 572.0,451.6 570.0,451.3 544.7,453.3 542.7,453.6 540.8,454.3 539.2,455.5 538.0,457.1 537.2,459.0 528.7,506.7 528.2,508.8 528.0,508.9 527.5,508.9 526.2,505.7 522.8,494.1 519.9,485.5 510.4,460.0 509.7,458.1 508.4,456.6 506.9,455.3 505.0,454.6 503.0,454.3 501.0,454.6 499.1,455.3 497.6,456.6 496.3,458.1 495.6,460.0 495.3,462.0 495.4,462.8 484.8,463.8 484.3,462.7 483.1,461.1 481.5,459.9 479.6,459.1 477.6,458.8 475.6,459.1 473.8,459.9 472.2,461.1 471.0,462.7 470.2,464.6 469.9,466.5 470.8,471.4ZM538.3,679.7 536.7,677.2 535.5,674.5 533.7,669.6 531.3,664.0 529.5,658.9 528.2,653.1 527.6,648.9 526.7,634.0 526.7,627.8 527.3,620.3 528.4,614.6 530.0,609.9 532.2,605.5 534.7,602.5 537.7,599.7 540.2,598.2 542.4,597.1 546.6,595.8 550.0,595.7 550.9,595.8 552.7,596.4 554.2,597.1 557.2,599.4 560.1,602.6 563.3,607.9 565.2,612.0 567.0,618.0 568.1,623.4 568.6,630.9 568.4,636.8 567.6,643.6 566.1,652.3 564.1,661.0 561.8,669.6 559.3,678.2 552.2,699.3 550.3,694.6 547.7,690.4 543.9,685.7Z"/>
<path id="TI" d="M473.6,473.7 480.2,497.1 482.2,506.0 483.0,510.5 483.3,516.5 483.3,519.5 482.8,524.1 481.4,529.8 479.5,533.9 468.6,551.9 463.0,562.6 457.8,575.0 453.9,586.4 452.3,592.2 450.3,601.0 449.2,606.9 448.1,614.2 447.4,620.2 446.8,629.2 446.8,641.3 447.6,653.4 449.1,663.7 450.3,669.6 453.8,679.1 457.5,687.2 460.3,692.4 463.5,697.5 472.3,709.8 475.6,714.9 483.0,728.2 481.8,725.4 478.7,716.9 476.3,711.0 467.3,692.2 465.4,687.1 463.6,681.5 461.6,672.7 459.0,657.9 458.1,650.4 457.6,641.3 457.6,629.2 458.0,623.2 458.8,614.8 460.1,606.7 461.3,600.8 464.3,589.2 468.2,577.8 471.1,570.8 473.7,565.3 477.9,557.3 487.4,541.9 490.2,536.7 491.8,532.6 492.7,529.8 493.3,526.9 493.9,522.5 494.1,519.5 494.0,513.5 493.2,506.1 492.1,500.2 489.8,491.3 484.8,473.8 482.8,465.1 482.3,463.8 481.5,462.7 480.3,461.9 479.0,461.3 477.6,461.1 476.2,461.3 474.9,461.9 473.8,462.7 473.0,463.8 472.4,465.1 472.2,466.5ZM497.8,463.4 508.3,491.7 511.0,500.3 513.6,509.1 515.1,513.2 516.4,516.0 519.1,519.4 520.2,520.2 524.2,521.8 525.6,522.0 528.8,522.0 530.2,521.8 533.2,521.1 534.5,520.6 538.0,518.0 538.8,516.9 540.1,514.3 540.7,513.0 541.3,510.0 549.2,466.0 563.8,464.9 558.2,493.1 556.7,503.5 556.1,509.5 556.5,511.9 557.1,513.3 557.9,514.4 559.0,515.2 560.3,515.8 561.7,516.0 563.1,515.8 564.4,515.2 565.6,514.4 566.4,513.3 573.1,496.0 582.2,475.3 596.2,479.4 590.7,489.3 588.0,494.8 586.3,498.9 584.2,504.6 582.8,510.4 582.3,514.8 582.1,517.9 582.4,522.3 583.0,523.6 583.8,524.8 585.5,526.3 592.0,530.5 596.3,533.6 600.7,537.2 605.1,541.4 611.2,548.1 614.0,551.8 617.3,556.7 620.4,561.9 623.2,567.2 625.7,572.6 627.4,577.0 629.3,582.7 631.0,588.4 632.4,594.3 633.5,600.2 634.5,607.6 635.0,613.6 635.2,619.5 635.0,628.3 634.6,634.2 633.8,642.5 631.5,656.3 628.9,668.0 625.9,679.7 621.6,694.2 609.2,735.0 604.4,752.4 600.7,767.0 596.1,787.5 592.7,805.1 589.3,825.7 587.6,838.9 586.0,856.6 584.9,874.5 584.3,892.4 584.1,913.5 584.4,934.6 585.1,955.7 588.7,1031.2 589.0,964.8 589.4,943.6 589.9,925.5 590.8,907.4 591.8,892.4 593.4,874.5 595.1,859.6 597.4,843.1 602.6,810.8 605.9,793.2 609.8,775.7 614.0,758.1 618.8,740.7 623.1,726.1 632.1,697.0 636.3,682.4 640.0,667.9 642.5,656.2 643.9,647.4 644.9,640.1 645.7,631.3 645.9,625.4 645.9,616.5 645.6,610.6 645.0,604.7 643.9,597.4 642.8,591.5 641.4,585.6 639.8,579.9 637.8,574.2 635.1,567.3 632.6,561.8 629.8,556.5 626.7,551.3 623.3,546.4 618.8,540.5 614.8,535.9 610.5,531.6 606.0,527.5 602.4,524.7 597.4,521.1 592.9,518.3 593.1,514.8 593.9,510.3 594.6,507.4 596.5,502.4 600.1,494.7 607.3,481.4 609.2,477.4 609.4,476.0 609.2,474.6 608.7,473.3 607.8,472.2 606.7,471.3 605.4,470.8 580.6,463.6 579.2,463.4 577.8,463.6 576.5,464.2 575.4,465.0 574.5,466.2 575.4,459.0 575.2,457.6 574.7,456.3 573.8,455.2 572.7,454.3 571.4,453.8 570.0,453.6 544.7,455.6 543.3,455.8 542.0,456.3 540.8,457.2 540.0,458.3 539.4,459.6 530.3,509.8 529.9,510.6 529.6,510.9 528.2,511.2 526.6,511.2 526.2,511.0 525.7,510.4 524.8,508.4 520.6,494.7 517.7,486.1 508.2,460.6 507.7,459.3 506.8,458.2 505.7,457.3 504.4,456.8 503.0,456.6 501.6,456.8 500.3,457.3 499.2,458.2 498.3,459.3 497.8,460.6 497.6,462.0ZM514.6,617.2 514.0,621.7 513.6,627.8 513.8,637.0 514.2,641.4 514.8,644.4 516.6,650.1 518.1,653.8 520.6,659.1 523.6,664.1 525.3,666.6 527.4,669.3 531.4,673.6 538.3,679.7 536.3,677.3 533.0,672.4 531.5,669.8 529.1,664.8 527.3,659.4 526.5,656.6 525.9,653.7 525.3,648.9 524.4,634.0 524.4,627.8 524.8,621.7 525.6,617.0 527.1,611.1 528.8,606.9 530.3,604.4 533.0,600.8 535.2,598.8 539.0,596.2 543.2,594.3 547.4,593.4 550.1,593.4 551.5,593.6 553.6,594.2 555.3,595.1 557.1,596.3 558.8,597.7 562.0,601.4 563.7,604.0 566.7,609.7 568.4,614.4 569.3,617.4 570.4,622.9 570.8,627.9 570.7,636.8 569.8,644.2 567.7,655.8 564.1,670.2 561.5,678.8 557.8,690.2 544.6,727.1 539.7,741.4 536.2,752.9 532.3,767.4 528.9,782.0 526.1,796.7 523.8,811.5 521.7,827.7 521.1,833.7 520.5,842.6 519.5,863.6 519.1,884.5 519.2,905.5 519.6,926.6 520.4,950.6 524.3,1031.6 524.8,950.6 525.2,926.6 526.1,902.5 527.2,881.5 528.9,860.6 530.7,842.6 534.2,814.2 536.6,799.5 539.4,784.8 542.7,770.2 545.8,758.6 549.2,747.0 553.0,735.6 569.2,690.1 572.8,678.7 576.0,667.3 578.7,655.7 580.3,647.0 581.5,636.8 581.6,627.9 581.1,622.0 580.4,617.6 578.9,611.6 576.0,604.3 573.0,598.6 571.3,595.9 568.5,592.3 566.4,590.1 564.2,588.2 560.7,585.7 556.9,583.9 554.3,583.1 550.2,582.6 547.4,582.6 543.2,583.1 540.4,583.9 536.3,585.5 533.6,586.8 531.1,588.4 527.6,591.1 525.4,593.2 523.5,595.5 520.9,599.0 519.4,601.5 516.6,608.3 515.8,611.2Z"/>
<path id="SIL" d="M471.8,477.3 477.7,497.8 479.7,506.6 480.4,510.6 480.6,513.5 480.7,519.5 480.5,522.3 479.7,526.3 478.9,529.1 477.3,532.7 466.3,550.6 462.1,558.6 458.3,566.9 455.3,574.3 452.3,582.8 450.6,588.6 448.4,597.4 446.6,606.2 445.1,617.2 444.4,626.2 444.1,635.3 444.3,644.3 445.0,653.4 446.5,664.3 447.8,670.2 450.9,678.7 453.9,685.8 456.6,691.1 459.6,696.3 470.0,711.2 476.0,718.6 481.3,725.7 485.6,733.6 488.4,737.8 490.3,740.1 492.4,742.3 496.4,745.3 499.0,746.7 500.9,747.4 504.7,748.1 508.8,748.0 511.7,747.5 513.7,746.9 516.5,745.6 519.1,743.9 521.4,741.9 523.4,739.5 525.0,736.8 526.2,734.0 526.8,730.9 527.0,728.5 530.8,729.7 534.3,730.3 537.4,730.2 541.0,729.4 536.3,743.6 532.0,758.0 528.4,772.5 525.2,787.2 522.2,804.9 519.5,824.7 518.5,833.6 517.4,851.6 516.8,866.5 516.5,884.5 516.5,902.5 516.8,920.6 517.6,944.6 518.9,974.6 523.8,1028.7 523.9,1031.6 524.3,1055.6 524.3,1077.6 524.0,1095.6 523.5,1100.3 523.0,1102.0 522.2,1103.5 521.2,1104.9 519.2,1106.8 516.9,1108.4 514.2,1109.7 511.3,1110.7 508.3,1111.6 504.1,1112.5 499.9,1113.1 480.7,1115.2 469.3,1116.1 458.0,1116.3 457.7,1116.6 457.7,1141.3 457.9,1141.6 466.1,1141.5 474.2,1141.1 482.3,1140.4 490.3,1139.4 499.3,1137.8 508.1,1135.8 516.0,1133.7 525.3,1130.7 525.6,1131.4 525.6,1154.3 525.9,1179.4 528.3,1278.6 528.9,1320.7 528.8,1345.8 528.3,1369.9 527.6,1383.9 526.5,1395.7 525.2,1404.5 523.3,1413.2 520.7,1421.7 517.8,1429.1 512.8,1439.0 502.3,1457.6 486.2,1487.6 479.7,1499.0 479.9,1499.3 522.1,1519.3 528.8,1508.6 543.5,1487.8 546.7,1482.7 552.5,1472.7 556.0,1467.5 559.4,1463.8 561.7,1461.8 563.3,1460.7 566.6,1459.2 568.3,1458.8 569.9,1458.8 572.2,1459.4 575.1,1461.2 578.0,1463.9 580.6,1467.2 584.3,1472.6 595.4,1490.5 608.3,1508.8 611.5,1513.9 613.7,1518.2 614.1,1518.3 656.1,1497.3 656.3,1497.0 650.9,1486.2 646.1,1477.4 623.6,1438.2 618.9,1429.4 615.0,1421.3 610.8,1411.2 607.0,1399.9 604.0,1388.4 601.4,1375.8 599.7,1365.0 598.4,1354.1 597.5,1342.2 596.8,1329.1 596.3,1314.1 595.1,1260.9 592.0,1170.1 590.8,1122.4 646.1,1127.7 646.3,1127.4 646.3,1105.0 646.0,1104.7 613.0,1100.5 598.1,1098.3 589.3,1096.7 588.7,1095.7 589.3,1066.1 589.0,1028.2 591.5,973.9 591.8,949.7 592.4,928.5 593.2,910.5 594.1,895.4 595.4,880.5 596.9,865.6 599.0,849.7 603.1,823.2 607.3,799.7 611.6,779.2 616.6,758.8 623.0,735.5 634.6,697.7 638.8,683.1 643.2,665.6 646.0,650.9 647.8,637.2 648.5,625.4 648.6,619.5 648.4,613.6 647.9,607.6 646.9,599.7 645.3,590.8 643.9,585.0 642.3,579.2 640.3,573.5 637.3,566.0 634.8,560.5 632.0,555.2 628.9,550.0 625.6,545.1 622.5,541.0 618.7,536.3 614.6,531.9 610.1,527.7 605.4,523.7 601.3,520.7 595.6,516.8 595.8,513.8 596.4,511.0 597.2,508.1 598.9,503.3 602.4,496.0 609.6,482.7 611.7,478.1 612.0,476.0 611.7,473.9 610.9,472.0 609.7,470.4 608.0,469.1 606.1,468.3 581.2,461.1 579.2,460.8 577.8,461.0 578.0,459.0 577.7,457.0 576.9,455.0 575.7,453.4 574.0,452.1 572.1,451.3 570.0,451.0 544.6,453.0 542.6,453.3 540.7,454.1 539.0,455.3 537.7,457.0 536.9,458.9 527.9,508.6 527.7,508.6 526.5,505.6 523.1,494.0 520.2,485.4 510.7,459.9 509.9,458.0 508.7,456.4 507.0,455.1 505.1,454.3 503.0,454.0 500.9,454.3 499.0,455.1 497.3,456.4 496.1,458.0 495.3,459.9 495.1,462.5 485.0,463.5 484.6,462.5 483.3,460.9 481.6,459.6 479.7,458.8 477.6,458.5 475.5,458.8 473.6,459.6 472.0,460.9 470.7,462.5 469.9,464.5 469.6,466.5 470.5,471.5ZM538.5,679.6 537.0,677.0 535.8,674.4 534.0,669.5 531.5,663.9 529.8,658.8 528.5,653.1 527.9,648.9 527.0,634.0 527.0,627.8 527.6,620.3 528.7,614.7 530.3,610.0 532.5,605.7 534.9,602.7 537.9,600.0 540.3,598.4 542.5,597.3 546.6,596.1 550.8,596.1 552.6,596.6 555.5,598.3 557.0,599.6 559.0,601.8 561.4,605.3 563.0,608.1 564.9,612.1 566.8,618.1 567.4,621.0 568.0,625.0 568.2,627.9 568.2,633.8 567.8,639.7 567.3,643.6 565.2,655.2 561.6,669.5 557.2,683.8 552.2,698.3 550.6,694.4 548.0,690.2 544.2,685.5Z"/>
<path id="RR" d="M551.8,722.8 553.0,720.7 554.1,717.8 555.3,713.4ZM533.0,677.6 541.5,686.5 544.7,690.2 547.8,694.9 549.6,699.0 550.7,703.5 550.9,706.3 550.9,709.1 550.7,711.9 550.1,714.5 549.3,717.1 548.2,719.5 546.4,722.2 544.3,724.5 541.7,726.2 539.5,727.1 537.1,727.5 534.4,727.6 530.4,726.8 528.4,726.1 527.2,725.6 526.3,725.5 525.5,725.9 524.8,726.5 524.4,727.3 524.0,731.5 523.3,734.0 522.2,736.4 520.1,739.3 517.4,741.8 514.4,743.6 511.1,744.9 507.6,745.4 504.1,745.3 501.7,744.8 498.5,743.5 495.6,741.5 492.3,738.3 488.9,733.9 486.1,728.9 482.6,721.7 480.1,722.8 485.4,732.6 488.6,737.6 490.5,739.9 492.6,742.1 494.9,744.0 497.4,745.6 501.0,747.1 502.8,747.5 505.8,747.9 507.7,747.8 510.7,747.4 513.6,746.6 515.4,745.8 518.1,744.3 520.5,742.4 522.5,740.1 523.7,738.5 525.2,735.8 525.9,733.9 526.5,730.9 526.7,727.9 527.3,728.3 530.9,729.4 535.3,730.0 537.4,729.9 540.2,729.4 542.8,728.3 544.5,727.3 544.1,728.4 546.2,726.9 547.6,725.6 549.4,723.4 551.0,720.9 552.5,717.2 553.7,712.3 554.1,707.2 553.6,702.2 553.1,703.5 552.2,699.2 550.8,695.5 548.3,691.2 545.3,687.2 538.3,679.7 535.1,675.6Z"/>
<filter id="b4" x="-50%" y="-50%" width="200%" height="200%"><feGaussianBlur stdDeviation="4.5"/></filter>
<filter id="b3" x="-50%" y="-50%" width="200%" height="200%"><feGaussianBlur stdDeviation="3.5"/></filter>
<filter id="b5" x="-50%" y="-50%" width="200%" height="200%"><feGaussianBlur stdDeviation="5"/></filter>
<filter id="b6" x="-50%" y="-50%" width="200%" height="200%"><feGaussianBlur stdDeviation="6.5"/></filter>
<filter id="bg" filterUnits="userSpaceOnUse" x="300" y="350" width="500" height="1300"><feGaussianBlur stdDeviation="11"/><feComponentTransfer><feFuncA type="table" tableValues="0.000 0.038 0.091 0.128 0.153 0.178 0.200 0.218 0.236 0.253 0.267 0.281 0.296 0.310 0.322 0.335 0.348 0.361 0.373 0.384 0.396 0.408 0.419 0.431 0.442 0.454 0.471 0.492 0.513 0.534 0.555 0.576 0.598 0.619 0.640 0.661 0.682 0.704 0.725 0.746 0.767 0.788 0.809 0.831 0.852 0.873 0.894 0.915 0.936 0.958 0.979 1.000"/></feComponentTransfer></filter>
<filter id="bc" filterUnits="userSpaceOnUse" x="200" y="300" width="700" height="1400"><feGaussianBlur stdDeviation="30"/></filter>
<radialGradient id="rgTop" gradientUnits="userSpaceOnUse" cx="541" cy="600" r="140"><stop offset="0.807" stop-color="#000" stop-opacity="0"/><stop offset="0.864" stop-color="#000" stop-opacity="0.5"/><stop offset="0.928" stop-color="#000" stop-opacity="1"/></radialGradient>
<radialGradient id="rgBot" gradientUnits="userSpaceOnUse" cx="569.7" cy="1366.5" r="160"><stop offset="0.731" stop-color="#000" stop-opacity="0"/><stop offset="0.781" stop-color="#000" stop-opacity="0.5"/><stop offset="0.838" stop-color="#000" stop-opacity="1"/></radialGradient>
<mask id="fade" maskUnits="userSpaceOnUse" x="380" y="400" width="340" height="1200">
<rect x="380" y="400" width="340" height="1200" fill="#fff"/>
<rect x="430" y="400" width="220" height="120" fill="url(#rgTop)"/>
<rect x="400" y="1095" width="76" height="70" fill="#000" filter="url(#b3)"/>
<rect x="625.5" y="1080" width="80" height="70" fill="#000" filter="url(#b5)"/>
<rect x="380" y="1440" width="340" height="170" fill="url(#rgBot)"/>
</mask>
<mask id="glowm" maskUnits="userSpaceOnUse" x="300" y="350" width="500" height="1300">
<g filter="url(#bg)"><g mask="url(#fade)"><use href="#SIL" fill="#fff"/></g></g>
</mask>
</defs>

<rect width="2500" height="1750" fill="#fff"/>
<g mask="url(#fade)"><use href="#L0"/><use href="#L1"/><use href="#L2"/><use href="#L3"/><use href="#L4"/><use href="#L5"/></g>
<g transform="translate(1090.7,10.375) scale(1,0.99865)">
<g mask="url(#glowm)"><rect x="300" y="350" width="500" height="1300" fill="#ee9632"/><g filter="url(#bc)"><rect x="250" y="985" width="600" height="700" fill="#d14439"/><ellipse cx="490" cy="775" rx="55" ry="45" fill="#d14439"/></g></g>
<g mask="url(#fade)">
<use href="#L0"/>
<use href="#TO" fill="#7d0d10"/>
<use href="#TI" fill="#e3b062"/>
<use href="#RR" fill="#8a0f10"/>
<use href="#L1"/><use href="#L2"/><use href="#L3"/><use href="#L4"/>
<use href="#L5b"/>
</g></g>
<rect x="219.4" y="222.4" width="664.1" height="172.1" fill="#fff" stroke="#d8cccc" stroke-width="0.8"/>
<rect x="219.6" y="222.6" width="662.4" height="170.4" fill="#ffe4e6"/>
<rect x="1310.7" y="222" width="664.2" height="172.7" fill="#f8a0a0"/>
<path d="M891.4,984.1 H1276 V990.1 H891.4Z M1274.4,973.1 L1302.5,987.1 L1274.4,1001.1Z" fill="#1a1a1a"/>
<use href="#ab" transform="translate(966.7,873) rotate(32)"/>
<use href="#abs" transform="translate(1095.5,777.3) rotate(-9) scale(0.71)"/>
<use href="#ab" transform="translate(1233.6,869.6) rotate(-29.4) scale(-1.23,1.23)"/>
<path d="M966.49,1036.78 965.27,1036.12 964.34,1035.24 962.64,1032.83 960.43,1028.93 959.46,1027.66 958.24,1026.26 956.31,1024.28 955.19,1023.32 954.28,1022.71 953.17,1022.26 952.30,1022.23 951.37,1022.66 950.53,1023.47 950.34,1023.87 950.38,1024.20 950.92,1025.12 951.90,1026.34 952.75,1027.21 955.04,1029.30 955.59,1029.91 956.46,1031.12 957.24,1032.50 957.88,1033.92 958.32,1035.33 958.49,1036.67 958.40,1037.86 958.08,1039.04 957.60,1040.10 956.98,1041.01 956.20,1041.82 955.26,1042.48 954.67,1042.78 953.60,1043.15 952.38,1043.37 951.07,1043.41 948.83,1043.14 947.21,1042.71 945.41,1042.08 942.52,1040.81 940.69,1039.80 939.80,1039.21 938.14,1037.96 936.54,1036.58 933.72,1033.86 930.93,1030.35 930.04,1029.48 929.61,1029.19 928.78,1028.81 927.71,1028.65 926.93,1028.88 926.13,1029.63 925.78,1030.29 925.70,1030.85 925.92,1031.48 926.16,1031.88 930.66,1037.65 932.68,1039.99 934.05,1041.23 935.55,1042.31 943.48,1047.08 946.12,1048.77 946.73,1049.37 947.12,1050.20 947.22,1050.84 947.18,1051.95 946.79,1053.68 946.13,1055.37 943.79,1059.00 942.59,1062.17 942.01,1063.48 941.34,1064.47 940.56,1065.31 940.08,1065.72 939.21,1066.25 938.06,1066.59 937.42,1066.58 936.81,1066.44 934.55,1065.50 933.92,1065.37 933.16,1065.65 932.69,1066.03 932.41,1066.42 932.34,1066.84 932.48,1067.31 932.78,1067.87 933.19,1068.40 933.77,1068.87 935.60,1069.94 936.12,1070.33 936.82,1071.08 937.56,1072.29 937.89,1073.24 937.90,1074.19 937.59,1075.03 936.98,1075.78 936.17,1076.35 935.19,1076.80 933.09,1077.33 930.62,1077.68 927.87,1077.96 923.66,1078.09 921.62,1078.24 918.71,1078.82 915.82,1079.68 914.30,1080.32 913.39,1080.93 912.92,1081.56 912.73,1082.19 912.75,1082.78 912.93,1083.26 913.35,1083.76 914.05,1084.26 914.50,1084.48 915.56,1084.82 916.19,1084.92 918.67,1084.98 922.55,1084.81 929.86,1084.19 931.73,1084.23 933.51,1084.38 935.96,1084.84 937.23,1085.26 937.79,1085.54 938.80,1086.28 939.41,1087.04 939.70,1087.59 939.95,1088.47 940.00,1089.10 939.88,1090.09 939.70,1090.70 939.26,1091.75 938.63,1092.93 937.85,1094.15 936.89,1095.44 935.74,1096.79 934.42,1098.19 932.82,1099.70 930.08,1102.05 926.17,1105.21 921.94,1108.45 917.94,1111.22 913.44,1113.69 912.29,1114.47 911.64,1115.14 911.28,1115.91 911.27,1116.37 911.38,1116.85 911.83,1117.61 912.34,1118.03 913.00,1118.29 914.57,1118.42 915.91,1118.30 917.42,1117.96 918.23,1117.70 921.04,1116.47 923.13,1115.36 926.29,1113.46 928.37,1112.07 931.52,1109.74 933.50,1108.14 935.28,1106.59 939.93,1101.76 941.66,1100.44 942.63,1099.97 943.59,1099.85 944.61,1100.04 945.69,1100.51 946.88,1101.29 947.50,1101.80 948.47,1102.83 948.87,1103.40 949.51,1104.73 949.91,1106.08 950.05,1106.88 950.10,1108.39 950.02,1109.11 949.79,1109.88 949.01,1111.37 947.69,1113.37 947.23,1114.31 947.16,1115.29 947.31,1115.77 947.56,1116.15 948.12,1116.55 948.70,1116.73 949.38,1116.79 950.06,1116.67 950.85,1116.23 952.97,1114.55 953.63,1114.14 954.17,1113.90 954.77,1113.76 955.68,1113.70 956.25,1113.77 957.15,1114.05 958.51,1114.69 959.61,1115.32 960.70,1116.10 961.81,1117.20 962.25,1117.83 963.00,1119.27 963.61,1120.90 964.09,1122.68 964.40,1124.46 964.46,1125.42 964.40,1127.21 963.97,1130.74 963.53,1136.16 963.15,1142.16 963.15,1143.60 963.34,1144.64 963.77,1145.35 964.07,1145.66 964.79,1146.14 965.71,1146.40 966.39,1146.17 966.91,1145.73 967.38,1145.04 967.72,1144.14 967.92,1142.84 968.25,1138.66 969.28,1131.45 969.92,1125.85 970.12,1124.96 970.61,1123.74 970.94,1123.17 971.60,1122.46 972.13,1122.14 972.71,1121.94 973.84,1121.77 974.64,1121.79 975.59,1121.95 979.36,1122.90 981.11,1123.10 981.93,1123.05 983.63,1122.74 987.24,1121.77 992.80,1120.61 994.65,1120.36 995.50,1120.33 997.07,1120.41 999.20,1120.86 1000.40,1121.34 1001.02,1121.68 1001.58,1122.11 1002.09,1122.65 1003.41,1124.68 1003.98,1125.33 1004.73,1125.86 1005.54,1126.30 1006.22,1126.53 1006.52,1126.52 1006.89,1126.14 1007.15,1125.52 1007.26,1124.24 1006.96,1123.11 1005.68,1119.91 1005.32,1118.32 1005.34,1116.73 1005.45,1116.01 1005.80,1114.67 1006.31,1113.36 1006.97,1112.12 1008.36,1110.26 1009.40,1109.20 1010.43,1108.36 1011.03,1107.99 1012.15,1107.47 1013.83,1107.06 1015.52,1106.98 1017.05,1107.15 1018.28,1107.59 1019.51,1108.34 1020.28,1108.97 1024.13,1113.05 1025.73,1114.54 1027.46,1115.84 1029.30,1117.08 1031.98,1118.65 1035.01,1120.11 1036.85,1120.70 1037.66,1120.74 1038.16,1120.51 1038.65,1119.93 1038.99,1119.23 1039.08,1118.76 1038.90,1118.45 1038.40,1118.06 1036.72,1117.04 1032.75,1115.16 1030.72,1113.85 1029.35,1112.85 1028.03,1111.76 1026.14,1109.78 1024.37,1107.38 1022.89,1104.89 1022.22,1103.45 1021.75,1102.16 1021.57,1101.46 1021.40,1100.17 1021.43,1098.60 1021.74,1096.87 1022.27,1095.06 1025.57,1085.16 1026.06,1083.15 1026.37,1081.15 1026.61,1078.14 1026.56,1075.14 1026.25,1073.10 1025.44,1069.85 1025.06,1067.84 1025.02,1066.80 1025.25,1065.30 1025.80,1063.95 1027.65,1061.22 1030.92,1057.68 1032.87,1055.13 1033.49,1053.94 1033.54,1053.69 1033.44,1053.21 1033.09,1052.67 1032.32,1052.08 1031.83,1051.97 1031.52,1051.99 1030.72,1052.19 1029.25,1052.85 1028.18,1053.49 1025.54,1055.71 1024.13,1056.75 1023.50,1057.09 1022.91,1057.28 1022.31,1057.40 1021.62,1057.43 1020.59,1057.25 1019.32,1056.78 1018.45,1056.31 1017.61,1055.67 1016.90,1054.92 1016.56,1054.42 1016.18,1053.54 1016.01,1052.58 1016.03,1051.63 1016.17,1051.01 1016.59,1050.08 1017.02,1049.52 1017.87,1048.78 1020.08,1047.24 1024.51,1043.78 1026.76,1041.71 1028.14,1040.12 1030.11,1037.47 1031.92,1034.59 1032.53,1033.24 1032.64,1032.66 1032.56,1032.24 1032.25,1031.78 1031.97,1031.51 1031.26,1031.06 1030.57,1030.86 1030.28,1030.86 1029.68,1031.08 1028.90,1031.63 1026.80,1033.54 1022.32,1038.22 1020.56,1039.76 1018.76,1040.99 1015.94,1042.56 1013.21,1043.75 1011.46,1044.29 1009.73,1044.63 1007.45,1044.83 1006.09,1044.78 1004.46,1044.41 1003.90,1044.16 1003.08,1043.64 1002.03,1042.66 1001.40,1041.80 1001.00,1040.69 1000.90,1039.89 1000.97,1038.16 1001.32,1035.96 1001.89,1033.45 1002.60,1030.89 1003.38,1028.49 1004.24,1026.08 1005.25,1023.68 1006.49,1021.32 1007.22,1020.20 1008.03,1019.18 1010.15,1017.11 1013.28,1014.42 1014.05,1013.68 1014.58,1013.05 1014.90,1012.51 1015.15,1011.69 1015.08,1011.13 1014.63,1010.38 1013.81,1009.79 1012.99,1009.53 1012.53,1009.48 1011.58,1009.59 1010.45,1010.03 1009.80,1010.37 1007.70,1011.79 1006.25,1013.01 1003.94,1015.31 1002.35,1017.11 1000.88,1019.05 1000.23,1020.03 999.06,1022.21 994.50,1033.06 992.66,1036.82 992.30,1037.35 991.90,1037.73 991.31,1038.09 990.41,1038.36 989.54,1038.41 988.64,1038.35 984.20,1037.57 982.11,1037.33 980.11,1037.39 974.94,1037.84 972.90,1037.80 970.89,1037.66 968.98,1037.41 967.25,1037.03Z" fill="#b9b8e6" stroke="#8c87c2" stroke-width="1.8" stroke-linejoin="round"/>
<path d="M976.0,1056.6C978.5,1056.6 982.5,1056.4 985.2,1057.1C988.0,1057.8 990.4,1059.1 992.4,1060.7C994.4,1062.3 996.2,1064.6 997.0,1066.9C997.9,1069.1 998.3,1071.7 997.5,1074.1C996.8,1076.5 994.6,1079.0 992.4,1081.2C990.2,1083.5 986.9,1085.5 984.2,1087.4C981.5,1089.3 978.4,1091.4 976.0,1092.5C973.6,1093.6 972.2,1094.2 969.8,1094.1C967.4,1093.9 963.9,1093.0 961.6,1091.5C959.3,1090.1 957.2,1087.7 956.0,1085.3C954.8,1083.0 954.3,1080.0 954.4,1077.1C954.5,1074.2 955.1,1070.6 956.5,1067.9C957.8,1065.2 960.4,1062.5 962.6,1060.7C964.9,1058.9 967.6,1057.8 969.8,1057.1C972.0,1056.4 973.4,1056.6 976.0,1056.6Z" fill="#9a95cb" stroke="#7b75b4" stroke-width="1.2"/>
<ellipse cx="1207.6" cy="1127.7" rx="60.5" ry="61.1" fill="#b9b6e4" stroke="#7a65b8" stroke-width="1.6"/>
<path d="M1165.2,1139.7C1165.6,1136.9 1166.9,1133.4 1168.6,1131.0C1170.3,1128.6 1171.8,1127.0 1175.3,1125.2C1178.9,1123.4 1184.5,1121.5 1189.8,1120.4C1195.1,1119.3 1201.8,1118.8 1207.1,1118.5C1212.4,1118.2 1216.8,1118.3 1221.6,1118.7C1226.4,1119.0 1231.3,1119.1 1236.1,1120.4C1240.9,1121.6 1247.3,1123.4 1250.5,1126.2C1253.8,1128.9 1255.0,1133.1 1255.4,1136.8C1255.7,1140.5 1253.9,1145.3 1252.5,1148.4C1251.0,1151.4 1248.9,1153.2 1246.7,1155.1C1244.4,1157.0 1242.0,1158.6 1239.0,1159.9C1235.9,1161.3 1232.1,1162.3 1228.4,1163.3C1224.7,1164.3 1220.6,1164.9 1216.8,1165.7C1212.9,1166.5 1208.8,1167.5 1205.2,1168.1C1201.7,1168.8 1198.6,1169.5 1195.6,1169.6C1192.5,1169.6 1189.5,1169.1 1186.9,1168.4C1184.3,1167.8 1182.9,1167.8 1180.1,1165.7C1177.4,1163.7 1172.8,1159.1 1170.5,1156.1C1168.2,1153.0 1167.0,1150.1 1166.2,1147.4C1165.3,1144.7 1164.8,1142.4 1165.2,1139.7Z" fill="#a595ce" stroke="#8c79bf" stroke-width="1"/>
<circle cx="1203.0" cy="1081.1" r="2.3" fill="#a693d0"/>
<circle cx="1221.9" cy="1081.1" r="2.3" fill="#a693d0"/>
<circle cx="1179.5" cy="1090.8" r="3.5" fill="#a693d0"/>
<circle cx="1198.8" cy="1095.3" r="3.4" fill="#a693d0"/>
<circle cx="1223.3" cy="1096.1" r="3.7" fill="#a693d0"/>
<circle cx="1243.6" cy="1100.8" r="3.7" fill="#a693d0"/>
<circle cx="1166.9" cy="1107.9" r="4.1" fill="#a693d0"/>
<circle cx="1183.7" cy="1105.0" r="3.1" fill="#a693d0"/>
<circle cx="1217.1" cy="1107.6" r="3.9" fill="#a693d0"/>
<circle cx="1238.5" cy="1113.6" r="2.4" fill="#a693d0"/>
<circle cx="1253.4" cy="1116.5" r="3.5" fill="#a693d0"/>
<circle cx="1153.4" cy="1130.3" r="2.4" fill="#a693d0"/>
<circle cx="1200.4" cy="1180.5" r="2.7" fill="#a693d0"/>
<circle cx="1217.0" cy="1179.7" r="2.6" fill="#a693d0"/>
<g opacity="0.999">
<text x="462.80" y="326.00" font-size="55.5" font-family="'Liberation Sans',Arial,sans-serif" fill="#000" font-weight="bold" textLength="176.67" lengthAdjust="spacingAndGlyphs">Normal</text>
<text x="1552.40" y="326.00" font-size="55.5" font-family="'Liberation Sans',Arial,sans-serif" fill="#000" font-weight="bold" textLength="180.26" lengthAdjust="spacingAndGlyphs">Aortitis</text>
<text x="987.20" y="705.90" font-size="47" font-family="'Liberation Sans',Arial,sans-serif" fill="#1a1a1a" font-style="italic" textLength="216.62" lengthAdjust="spacingAndGlyphs">Antibodies</text>
<text x="956.00" y="1291.80" font-size="47" font-family="'Liberation Sans',Arial,sans-serif" fill="#1a1a1a" font-style="italic" textLength="278.63" lengthAdjust="spacingAndGlyphs">Immune Cells</text>
<text x="1768.60" y="984.60" font-size="46.5" font-family="'Liberation Sans',Arial,sans-serif" fill="#1a1a1a"  textLength="497.27" lengthAdjust="spacingAndGlyphs">Immune activation leads</text>
<text x="1804.80" y="1037.00" font-size="46.5" font-family="'Liberation Sans',Arial,sans-serif" fill="#1a1a1a"  textLength="41.74" lengthAdjust="spacingAndGlyphs">to</text>
<text x="1857.60" y="1037.00" font-size="46.5" font-family="'Liberation Sans',Arial,sans-serif" fill="#1a1a1a" font-weight="bold" textLength="373.04" lengthAdjust="spacingAndGlyphs">aortic dysfunction</text>
</g>
</svg>
</body></html>
